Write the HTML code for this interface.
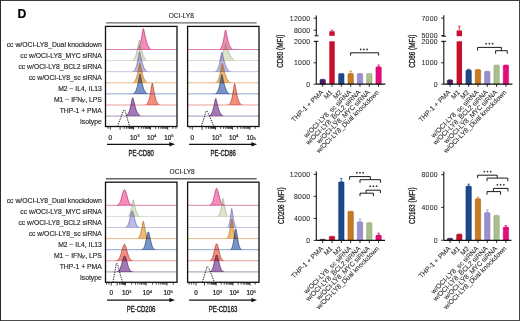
<!DOCTYPE html>
<html><head><meta charset="utf-8"><style>
html,body{margin:0;padding:0;background:#fff;}
body{width:520px;height:321px;overflow:hidden;font-family:"Liberation Sans", sans-serif;}
svg{display:block;}
text{stroke:#222;stroke-width:0.22px;}
</style></head><body>
<svg width="520" height="321" viewBox="0 0 520 321" font-family='"Liberation Sans", sans-serif'>
<rect x="0" y="0" width="520" height="321" fill="#fff"/>
<line x1="0" y1="0.5" x2="520" y2="0.5" stroke="#3c3c3c" stroke-width="1"/>
<line x1="519.5" y1="0" x2="519.5" y2="321" stroke="#474747" stroke-width="1"/>
<line x1="0" y1="320.5" x2="520" y2="320.5" stroke="#4d4d4d" stroke-width="1"/>
<line x1="0.5" y1="0" x2="0.5" y2="321" stroke="#2c2c2c" stroke-width="1"/>
<text x="17.6" y="17.8" font-size="12.2" font-weight="bold" fill="#000">D</text>
<text x="181.30" y="17.90" font-size="6.6" text-anchor="middle" fill="#222" style="stroke-width:0.1px">OCI-LY8</text>
<line x1="106" y1="22.90" x2="256.6" y2="22.90" stroke="#666" stroke-width="1.4"/>
<text x="101.8" y="47.20" font-size="6.8" text-anchor="end" fill="#2a2a2a" style="stroke:#2a2a2a;stroke-width:0.16px">cc w/OCI-LY8_Dual knockdown</text>
<text x="101.8" y="58.20" font-size="6.8" text-anchor="end" fill="#2a2a2a" style="stroke:#2a2a2a;stroke-width:0.16px">cc w/OCI-LY8_MYC siRNA</text>
<text x="101.8" y="69.20" font-size="6.8" text-anchor="end" fill="#2a2a2a" style="stroke:#2a2a2a;stroke-width:0.16px">cc w/OCI-LY8_BCL2 siRNA</text>
<text x="101.8" y="80.20" font-size="6.8" text-anchor="end" fill="#2a2a2a" style="stroke:#2a2a2a;stroke-width:0.16px">cc w/OCI-LY8_sc siRNA</text>
<text x="101.8" y="91.20" font-size="6.8" text-anchor="end" fill="#2a2a2a" style="stroke:#2a2a2a;stroke-width:0.16px">M2 − IL4, IL13</text>
<text x="101.8" y="102.20" font-size="6.8" text-anchor="end" fill="#2a2a2a" style="stroke:#2a2a2a;stroke-width:0.16px">M1 − IFN<tspan font-style="italic" font-size="6.2">γ</tspan>, LPS</text>
<text x="101.8" y="113.20" font-size="6.8" text-anchor="end" fill="#2a2a2a" style="stroke:#2a2a2a;stroke-width:0.16px">THP-1 + PMA</text>
<text x="101.8" y="124.20" font-size="6.8" text-anchor="end" fill="#2a2a2a" style="stroke:#2a2a2a;stroke-width:0.16px">Isotype</text>
<line x1="105.5" y1="49.50" x2="177.0" y2="49.50" stroke="#dd82b0" stroke-width="1.0"/>
<path d="M106.20,49.50 L106.20,49.50 L106.78,49.50 L107.37,49.50 L107.95,49.50 L108.54,49.50 L109.12,49.50 L109.70,49.50 L110.29,49.50 L110.87,49.50 L111.46,49.50 L112.04,49.50 L112.63,49.50 L113.21,49.50 L113.79,49.50 L114.38,49.50 L114.96,49.50 L115.55,49.50 L116.13,49.50 L116.72,49.50 L117.30,49.50 L117.88,49.50 L118.47,49.50 L119.05,49.50 L119.64,49.50 L120.22,49.50 L120.80,49.50 L121.39,49.50 L121.97,49.50 L122.56,49.50 L123.14,49.50 L123.73,49.50 L124.31,49.50 L124.89,49.50 L125.48,49.50 L126.06,49.50 L126.65,49.50 L127.23,49.50 L127.81,49.50 L128.40,49.50 L128.98,49.50 L129.57,49.50 L130.15,49.50 L130.74,49.50 L131.32,49.50 L131.90,49.50 L132.49,49.49 L133.07,49.49 L133.66,49.48 L134.24,49.46 L134.82,49.43 L135.41,49.38 L135.99,49.29 L136.58,49.15 L137.16,48.92 L137.75,48.55 L138.33,48.00 L138.91,47.18 L139.50,45.99 L140.08,44.35 L140.67,42.16 L141.25,39.39 L141.83,36.10 L142.42,32.56 L143.00,29.41 L143.59,29.11 L144.17,31.39 L144.75,34.12 L145.34,36.87 L145.92,39.40 L146.51,41.62 L147.09,43.48 L147.68,44.99 L148.26,46.18 L148.84,47.10 L149.43,47.79 L150.01,48.30 L150.60,48.67 L151.18,48.93 L151.77,49.12 L152.35,49.24 L152.93,49.33 L153.52,49.39 L154.10,49.43 L154.69,49.46 L155.27,49.47 L155.85,49.48 L156.44,49.49 L157.02,49.49 L157.61,49.50 L158.19,49.50 L158.78,49.50 L159.36,49.50 L159.94,49.50 L160.53,49.50 L161.11,49.50 L161.70,49.50 L162.28,49.50 L162.86,49.50 L163.45,49.50 L164.03,49.50 L164.62,49.50 L165.20,49.50 L165.79,49.50 L166.37,49.50 L166.95,49.50 L167.54,49.50 L168.12,49.50 L168.71,49.50 L169.29,49.50 L169.87,49.50 L170.46,49.50 L171.04,49.50 L171.63,49.50 L172.21,49.50 L172.80,49.50 L173.38,49.50 L173.96,49.50 L174.55,49.50 L175.13,49.50 L175.72,49.50 L176.30,49.50 L176.30,49.50 Z" fill="#f47fb4" fill-opacity="0.9" style="mix-blend-mode:multiply"/>
<path d="M137.90,48.43 L138.05,48.29 L138.21,48.14 L138.36,47.96 L138.52,47.77 L138.67,47.56 L138.82,47.33 L138.98,47.07 L139.13,46.79 L139.28,46.47 L139.44,46.13 L139.59,45.76 L139.75,45.36 L139.90,44.92 L140.05,44.44 L140.21,43.93 L140.36,43.38 L140.51,42.79 L140.67,42.15 L140.82,41.48 L140.98,40.76 L141.13,40.01 L141.28,39.22 L141.44,38.39 L141.59,37.53 L141.74,36.64 L141.90,35.72 L142.05,34.79 L142.21,33.85 L142.36,32.92 L142.51,32.00 L142.67,31.12 L142.82,30.29 L142.97,29.54 L143.13,28.92 L143.28,28.52 L143.44,28.71 L143.59,29.12 L143.74,29.63 L143.90,30.22 L144.05,30.86 L144.20,31.54 L144.36,32.24 L144.51,32.96 L144.67,33.69 L144.82,34.43 L144.97,35.16 L145.13,35.88 L145.28,36.60 L145.43,37.30 L145.59,37.98 L145.74,38.64 L145.90,39.29 L146.05,39.91 L146.20,40.51 L146.36,41.08 L146.51,41.63 L146.66,42.15 L146.82,42.65 L146.97,43.12 L147.12,43.57 L147.28,44.00 L147.43,44.40 L147.59,44.78 L147.74,45.13 L147.89,45.47 L148.05,45.78 L148.20,46.07 L148.36,46.35 L148.51,46.60 L148.66,46.84 L148.82,47.06 L148.97,47.26 L149.12,47.45 L149.28,47.63 L149.43,47.79 L149.59,47.94 L149.74,48.08 L149.89,48.20 L150.05,48.32 L150.20,48.43" fill="none" stroke="#b8246a" stroke-width="0.8" stroke-opacity="0.9"/>
<line x1="105.5" y1="60.60" x2="177.0" y2="60.60" stroke="#d8dece" stroke-width="1.0"/>
<path d="M106.20,60.60 L106.20,60.60 L106.78,60.60 L107.37,60.60 L107.95,60.60 L108.54,60.60 L109.12,60.60 L109.70,60.60 L110.29,60.60 L110.87,60.60 L111.46,60.60 L112.04,60.60 L112.63,60.60 L113.21,60.60 L113.79,60.60 L114.38,60.60 L114.96,60.60 L115.55,60.60 L116.13,60.60 L116.72,60.60 L117.30,60.60 L117.88,60.60 L118.47,60.60 L119.05,60.60 L119.64,60.60 L120.22,60.60 L120.80,60.60 L121.39,60.60 L121.97,60.60 L122.56,60.60 L123.14,60.60 L123.73,60.60 L124.31,60.60 L124.89,60.60 L125.48,60.60 L126.06,60.60 L126.65,60.60 L127.23,60.59 L127.81,60.59 L128.40,60.58 L128.98,60.57 L129.57,60.55 L130.15,60.52 L130.74,60.47 L131.32,60.39 L131.90,60.26 L132.49,60.07 L133.07,59.78 L133.66,59.35 L134.24,58.72 L134.82,57.85 L135.41,56.66 L135.99,55.07 L136.58,53.04 L137.16,50.55 L137.75,47.66 L138.33,44.55 L138.91,41.64 L139.50,40.23 L140.08,42.25 L140.67,44.97 L141.25,47.80 L141.83,50.43 L142.42,52.73 L143.00,54.65 L143.59,56.20 L144.17,57.41 L144.75,58.32 L145.34,59.01 L145.92,59.50 L146.51,59.85 L147.09,60.10 L147.68,60.27 L148.26,60.39 L148.84,60.46 L149.43,60.51 L150.01,60.55 L150.60,60.57 L151.18,60.58 L151.77,60.59 L152.35,60.59 L152.93,60.60 L153.52,60.60 L154.10,60.60 L154.69,60.60 L155.27,60.60 L155.85,60.60 L156.44,60.60 L157.02,60.60 L157.61,60.60 L158.19,60.60 L158.78,60.60 L159.36,60.60 L159.94,60.60 L160.53,60.60 L161.11,60.60 L161.70,60.60 L162.28,60.60 L162.86,60.60 L163.45,60.60 L164.03,60.60 L164.62,60.60 L165.20,60.60 L165.79,60.60 L166.37,60.60 L166.95,60.60 L167.54,60.60 L168.12,60.60 L168.71,60.60 L169.29,60.60 L169.87,60.60 L170.46,60.60 L171.04,60.60 L171.63,60.60 L172.21,60.60 L172.80,60.60 L173.38,60.60 L173.96,60.60 L174.55,60.60 L175.13,60.60 L175.72,60.60 L176.30,60.60 L176.30,60.60 Z" fill="#d8e2c6" fill-opacity="0.9" style="mix-blend-mode:multiply"/>
<path d="M133.40,59.55 L133.56,59.43 L133.72,59.29 L133.87,59.14 L134.03,58.97 L134.19,58.79 L134.34,58.59 L134.50,58.37 L134.66,58.13 L134.82,57.86 L134.97,57.58 L135.13,57.27 L135.29,56.93 L135.45,56.56 L135.61,56.17 L135.76,55.75 L135.92,55.29 L136.08,54.80 L136.24,54.28 L136.39,53.73 L136.55,53.14 L136.71,52.52 L136.87,51.87 L137.02,51.18 L137.18,50.46 L137.34,49.71 L137.50,48.94 L137.65,48.14 L137.81,47.32 L137.97,46.48 L138.12,45.64 L138.28,44.80 L138.44,43.96 L138.60,43.15 L138.75,42.37 L138.91,41.64 L139.07,40.99 L139.23,40.45 L139.38,40.11 L139.54,40.33 L139.70,40.78 L139.86,41.33 L140.02,41.96 L140.17,42.65 L140.33,43.37 L140.49,44.11 L140.65,44.87 L140.80,45.64 L140.96,46.41 L141.12,47.17 L141.28,47.91 L141.43,48.65 L141.59,49.36 L141.75,50.06 L141.91,50.73 L142.06,51.37 L142.22,51.99 L142.38,52.58 L142.53,53.14 L142.69,53.68 L142.85,54.19 L143.01,54.67 L143.16,55.12 L143.32,55.54 L143.48,55.94 L143.64,56.32 L143.80,56.67 L143.95,56.99 L144.11,57.29 L144.27,57.58 L144.43,57.84 L144.58,58.08 L144.74,58.30 L144.90,58.51 L145.06,58.70 L145.21,58.88 L145.37,59.04 L145.53,59.18 L145.69,59.32 L145.84,59.44 L146.00,59.55" fill="none" stroke="#98a886" stroke-width="0.8" stroke-opacity="0.9"/>
<line x1="105.5" y1="71.70" x2="177.0" y2="71.70" stroke="#c8c3e6" stroke-width="1.0"/>
<path d="M106.20,71.70 L106.20,71.70 L106.78,71.70 L107.37,71.70 L107.95,71.70 L108.54,71.70 L109.12,71.70 L109.70,71.70 L110.29,71.70 L110.87,71.70 L111.46,71.70 L112.04,71.70 L112.63,71.70 L113.21,71.70 L113.79,71.70 L114.38,71.70 L114.96,71.70 L115.55,71.70 L116.13,71.70 L116.72,71.70 L117.30,71.70 L117.88,71.70 L118.47,71.70 L119.05,71.70 L119.64,71.70 L120.22,71.70 L120.80,71.70 L121.39,71.70 L121.97,71.70 L122.56,71.70 L123.14,71.70 L123.73,71.70 L124.31,71.70 L124.89,71.70 L125.48,71.70 L126.06,71.70 L126.65,71.70 L127.23,71.70 L127.81,71.70 L128.40,71.69 L128.98,71.69 L129.57,71.68 L130.15,71.66 L130.74,71.63 L131.32,71.58 L131.90,71.50 L132.49,71.37 L133.07,71.17 L133.66,70.85 L134.24,70.39 L134.82,69.70 L135.41,68.73 L135.99,67.38 L136.58,65.60 L137.16,63.31 L137.75,60.55 L138.33,57.43 L138.91,54.28 L139.50,51.87 L140.08,52.99 L140.67,55.51 L141.25,58.28 L141.83,60.93 L142.42,63.29 L143.00,65.30 L143.59,66.93 L144.17,68.21 L144.75,69.20 L145.34,69.94 L145.92,70.48 L146.51,70.87 L147.09,71.14 L147.68,71.33 L148.26,71.46 L148.84,71.54 L149.43,71.60 L150.01,71.64 L150.60,71.66 L151.18,71.68 L151.77,71.69 L152.35,71.69 L152.93,71.69 L153.52,71.70 L154.10,71.70 L154.69,71.70 L155.27,71.70 L155.85,71.70 L156.44,71.70 L157.02,71.70 L157.61,71.70 L158.19,71.70 L158.78,71.70 L159.36,71.70 L159.94,71.70 L160.53,71.70 L161.11,71.70 L161.70,71.70 L162.28,71.70 L162.86,71.70 L163.45,71.70 L164.03,71.70 L164.62,71.70 L165.20,71.70 L165.79,71.70 L166.37,71.70 L166.95,71.70 L167.54,71.70 L168.12,71.70 L168.71,71.70 L169.29,71.70 L169.87,71.70 L170.46,71.70 L171.04,71.70 L171.63,71.70 L172.21,71.70 L172.80,71.70 L173.38,71.70 L173.96,71.70 L174.55,71.70 L175.13,71.70 L175.72,71.70 L176.30,71.70 L176.30,71.70 Z" fill="#b6b0e6" fill-opacity="0.9" style="mix-blend-mode:multiply"/>
<path d="M133.90,70.68 L134.05,70.56 L134.21,70.42 L134.36,70.26 L134.52,70.09 L134.67,69.91 L134.82,69.70 L134.98,69.48 L135.13,69.23 L135.28,68.96 L135.44,68.67 L135.59,68.35 L135.75,68.00 L135.90,67.63 L136.05,67.22 L136.21,66.78 L136.36,66.31 L136.51,65.81 L136.67,65.27 L136.82,64.70 L136.97,64.09 L137.13,63.45 L137.28,62.78 L137.44,62.07 L137.59,61.33 L137.74,60.56 L137.90,59.76 L138.05,58.95 L138.21,58.11 L138.36,57.27 L138.51,56.42 L138.67,55.59 L138.82,54.77 L138.97,53.98 L139.13,53.25 L139.28,52.59 L139.44,52.05 L139.59,51.71 L139.74,51.93 L139.90,52.35 L140.05,52.88 L140.20,53.47 L140.36,54.12 L140.51,54.80 L140.66,55.51 L140.82,56.23 L140.97,56.96 L141.13,57.69 L141.28,58.42 L141.43,59.13 L141.59,59.84 L141.74,60.52 L141.89,61.19 L142.05,61.84 L142.20,62.46 L142.36,63.06 L142.51,63.63 L142.66,64.18 L142.82,64.70 L142.97,65.20 L143.12,65.67 L143.28,66.11 L143.43,66.53 L143.59,66.93 L143.74,67.30 L143.89,67.64 L144.05,67.97 L144.20,68.27 L144.35,68.56 L144.51,68.82 L144.66,69.06 L144.82,69.29 L144.97,69.50 L145.12,69.69 L145.28,69.87 L145.43,70.04 L145.58,70.19 L145.74,70.33 L145.89,70.46 L146.05,70.57 L146.20,70.68" fill="none" stroke="#6a62a8" stroke-width="0.8" stroke-opacity="0.9"/>
<line x1="105.5" y1="82.80" x2="177.0" y2="82.80" stroke="#e6b985" stroke-width="1.0"/>
<path d="M106.20,82.80 L106.20,82.80 L106.78,82.80 L107.37,82.80 L107.95,82.80 L108.54,82.80 L109.12,82.80 L109.70,82.80 L110.29,82.80 L110.87,82.80 L111.46,82.80 L112.04,82.80 L112.63,82.80 L113.21,82.80 L113.79,82.80 L114.38,82.80 L114.96,82.80 L115.55,82.80 L116.13,82.80 L116.72,82.80 L117.30,82.80 L117.88,82.80 L118.47,82.80 L119.05,82.80 L119.64,82.80 L120.22,82.80 L120.80,82.80 L121.39,82.80 L121.97,82.80 L122.56,82.80 L123.14,82.80 L123.73,82.80 L124.31,82.80 L124.89,82.80 L125.48,82.80 L126.06,82.80 L126.65,82.80 L127.23,82.80 L127.81,82.80 L128.40,82.79 L128.98,82.79 L129.57,82.78 L130.15,82.77 L130.74,82.74 L131.32,82.70 L131.90,82.63 L132.49,82.52 L133.07,82.35 L133.66,82.08 L134.24,81.67 L134.82,81.06 L135.41,80.20 L135.99,78.99 L136.58,77.36 L137.16,75.25 L137.75,72.65 L138.33,69.63 L138.91,66.43 L139.50,63.63 L140.08,63.41 L140.67,65.70 L141.25,68.43 L141.83,71.15 L142.42,73.62 L143.00,75.75 L143.59,77.51 L144.17,78.91 L144.75,79.99 L145.34,80.81 L145.92,81.41 L146.51,81.85 L147.09,82.16 L147.68,82.37 L148.26,82.52 L148.84,82.62 L149.43,82.68 L150.01,82.73 L150.60,82.75 L151.18,82.77 L151.77,82.78 L152.35,82.79 L152.93,82.79 L153.52,82.80 L154.10,82.80 L154.69,82.80 L155.27,82.80 L155.85,82.80 L156.44,82.80 L157.02,82.80 L157.61,82.80 L158.19,82.80 L158.78,82.80 L159.36,82.80 L159.94,82.80 L160.53,82.80 L161.11,82.80 L161.70,82.80 L162.28,82.80 L162.86,82.80 L163.45,82.80 L164.03,82.80 L164.62,82.80 L165.20,82.80 L165.79,82.80 L166.37,82.80 L166.95,82.80 L167.54,82.80 L168.12,82.80 L168.71,82.80 L169.29,82.80 L169.87,82.80 L170.46,82.80 L171.04,82.80 L171.63,82.80 L172.21,82.80 L172.80,82.80 L173.38,82.80 L173.96,82.80 L174.55,82.80 L175.13,82.80 L175.72,82.80 L176.30,82.80 L176.30,82.80 Z" fill="#eeb460" fill-opacity="0.9" style="mix-blend-mode:multiply"/>
<path d="M134.10,81.78 L134.25,81.66 L134.41,81.52 L134.56,81.36 L134.72,81.19 L134.87,81.01 L135.02,80.80 L135.18,80.58 L135.33,80.33 L135.48,80.06 L135.64,79.77 L135.79,79.45 L135.95,79.10 L136.10,78.73 L136.25,78.32 L136.41,77.88 L136.56,77.41 L136.71,76.91 L136.87,76.37 L137.02,75.80 L137.18,75.19 L137.33,74.55 L137.48,73.88 L137.64,73.17 L137.79,72.43 L137.94,71.66 L138.10,70.86 L138.25,70.05 L138.41,69.21 L138.56,68.37 L138.71,67.52 L138.87,66.69 L139.02,65.87 L139.17,65.08 L139.33,64.35 L139.48,63.69 L139.64,63.15 L139.79,62.81 L139.94,63.03 L140.10,63.45 L140.25,63.98 L140.40,64.57 L140.56,65.22 L140.71,65.90 L140.87,66.61 L141.02,67.33 L141.17,68.06 L141.33,68.79 L141.48,69.52 L141.63,70.23 L141.79,70.94 L141.94,71.62 L142.09,72.29 L142.25,72.94 L142.40,73.56 L142.56,74.16 L142.71,74.73 L142.86,75.28 L143.02,75.80 L143.17,76.30 L143.33,76.77 L143.48,77.21 L143.63,77.63 L143.79,78.03 L143.94,78.40 L144.09,78.74 L144.25,79.07 L144.40,79.37 L144.56,79.66 L144.71,79.92 L144.86,80.16 L145.02,80.39 L145.17,80.60 L145.32,80.79 L145.48,80.97 L145.63,81.14 L145.78,81.29 L145.94,81.43 L146.09,81.56 L146.25,81.67 L146.40,81.78" fill="none" stroke="#a86a20" stroke-width="0.8" stroke-opacity="0.9"/>
<line x1="105.5" y1="93.90" x2="177.0" y2="93.90" stroke="#8ea3cc" stroke-width="1.0"/>
<path d="M106.20,93.90 L106.20,93.90 L106.78,93.90 L107.37,93.90 L107.95,93.90 L108.54,93.90 L109.12,93.90 L109.70,93.90 L110.29,93.90 L110.87,93.90 L111.46,93.90 L112.04,93.90 L112.63,93.90 L113.21,93.90 L113.79,93.90 L114.38,93.90 L114.96,93.90 L115.55,93.90 L116.13,93.90 L116.72,93.90 L117.30,93.90 L117.88,93.90 L118.47,93.90 L119.05,93.90 L119.64,93.90 L120.22,93.90 L120.80,93.90 L121.39,93.90 L121.97,93.90 L122.56,93.90 L123.14,93.90 L123.73,93.90 L124.31,93.90 L124.89,93.90 L125.48,93.90 L126.06,93.90 L126.65,93.90 L127.23,93.90 L127.81,93.90 L128.40,93.90 L128.98,93.89 L129.57,93.88 L130.15,93.87 L130.74,93.85 L131.32,93.82 L131.90,93.76 L132.49,93.66 L133.07,93.51 L133.66,93.28 L134.24,92.93 L134.82,92.40 L135.41,91.63 L135.99,90.55 L136.58,89.07 L137.16,87.13 L137.75,84.69 L138.33,81.80 L138.91,78.62 L139.50,75.58 L140.08,74.01 L140.67,76.06 L141.25,78.86 L141.83,81.74 L142.42,84.38 L143.00,86.66 L143.59,88.53 L144.17,90.01 L144.75,91.14 L145.34,91.98 L145.92,92.58 L146.51,93.02 L147.09,93.32 L147.68,93.52 L148.26,93.66 L148.84,93.75 L149.43,93.80 L150.01,93.84 L150.60,93.86 L151.18,93.88 L151.77,93.89 L152.35,93.89 L152.93,93.90 L153.52,93.90 L154.10,93.90 L154.69,93.90 L155.27,93.90 L155.85,93.90 L156.44,93.90 L157.02,93.90 L157.61,93.90 L158.19,93.90 L158.78,93.90 L159.36,93.90 L159.94,93.90 L160.53,93.90 L161.11,93.90 L161.70,93.90 L162.28,93.90 L162.86,93.90 L163.45,93.90 L164.03,93.90 L164.62,93.90 L165.20,93.90 L165.79,93.90 L166.37,93.90 L166.95,93.90 L167.54,93.90 L168.12,93.90 L168.71,93.90 L169.29,93.90 L169.87,93.90 L170.46,93.90 L171.04,93.90 L171.63,93.90 L172.21,93.90 L172.80,93.90 L173.38,93.90 L173.96,93.90 L174.55,93.90 L175.13,93.90 L175.72,93.90 L176.30,93.90 L176.30,93.90 Z" fill="#6a88c2" fill-opacity="0.9" style="mix-blend-mode:multiply"/>
<path d="M134.30,92.88 L134.45,92.76 L134.60,92.62 L134.75,92.48 L134.90,92.31 L135.05,92.13 L135.20,91.93 L135.35,91.72 L135.50,91.48 L135.65,91.22 L135.80,90.94 L135.95,90.64 L136.10,90.31 L136.25,89.95 L136.40,89.56 L136.55,89.15 L136.70,88.70 L136.85,88.22 L137.00,87.71 L137.15,87.17 L137.30,86.60 L137.45,85.99 L137.60,85.34 L137.75,84.67 L137.90,83.96 L138.05,83.23 L138.20,82.47 L138.35,81.69 L138.50,80.88 L138.65,80.07 L138.80,79.24 L138.95,78.42 L139.10,77.60 L139.25,76.81 L139.40,76.05 L139.55,75.34 L139.70,74.72 L139.85,74.20 L140.00,73.90 L140.15,74.16 L140.30,74.61 L140.45,75.16 L140.60,75.77 L140.75,76.44 L140.90,77.15 L141.05,77.87 L141.20,78.61 L141.35,79.36 L141.50,80.11 L141.65,80.85 L141.80,81.57 L141.95,82.29 L142.10,82.98 L142.25,83.65 L142.40,84.30 L142.55,84.93 L142.70,85.53 L142.85,86.10 L143.00,86.65 L143.15,87.17 L143.30,87.66 L143.45,88.13 L143.60,88.57 L143.75,88.98 L143.90,89.37 L144.05,89.73 L144.20,90.07 L144.35,90.39 L144.50,90.68 L144.65,90.96 L144.80,91.21 L144.95,91.45 L145.10,91.66 L145.25,91.86 L145.40,92.05 L145.55,92.22 L145.70,92.38 L145.85,92.52 L146.00,92.65 L146.15,92.77 L146.30,92.88" fill="none" stroke="#1f3a70" stroke-width="0.8" stroke-opacity="0.9"/>
<line x1="105.5" y1="105.00" x2="177.0" y2="105.00" stroke="#e99a9a" stroke-width="1.0"/>
<path d="M106.20,105.00 L106.20,105.00 L106.78,105.00 L107.37,105.00 L107.95,105.00 L108.54,105.00 L109.12,105.00 L109.70,105.00 L110.29,105.00 L110.87,105.00 L111.46,105.00 L112.04,105.00 L112.63,105.00 L113.21,105.00 L113.79,105.00 L114.38,105.00 L114.96,105.00 L115.55,105.00 L116.13,105.00 L116.72,105.00 L117.30,105.00 L117.88,105.00 L118.47,105.00 L119.05,105.00 L119.64,105.00 L120.22,105.00 L120.80,105.00 L121.39,105.00 L121.97,105.00 L122.56,105.00 L123.14,105.00 L123.73,105.00 L124.31,105.00 L124.89,105.00 L125.48,105.00 L126.06,105.00 L126.65,105.00 L127.23,105.00 L127.81,105.00 L128.40,105.00 L128.98,105.00 L129.57,105.00 L130.15,105.00 L130.74,105.00 L131.32,105.00 L131.90,105.00 L132.49,105.00 L133.07,105.00 L133.66,105.00 L134.24,105.00 L134.82,105.00 L135.41,105.00 L135.99,105.00 L136.58,105.00 L137.16,105.00 L137.75,105.00 L138.33,105.00 L138.91,105.00 L139.50,105.00 L140.08,105.00 L140.67,105.00 L141.25,105.00 L141.83,104.99 L142.42,104.98 L143.00,104.97 L143.59,104.94 L144.17,104.90 L144.75,104.83 L145.34,104.70 L145.92,104.50 L146.51,104.18 L147.09,103.69 L147.68,102.96 L148.26,101.88 L148.84,100.37 L149.43,98.32 L150.01,95.66 L150.60,92.42 L151.18,88.76 L151.77,85.18 L152.35,83.06 L152.93,85.37 L153.52,88.61 L154.10,91.92 L154.69,94.93 L155.27,97.48 L155.85,99.54 L156.44,101.13 L157.02,102.31 L157.61,103.18 L158.19,103.79 L158.78,104.21 L159.36,104.49 L159.94,104.68 L160.53,104.80 L161.11,104.88 L161.70,104.93 L162.28,104.96 L162.86,104.97 L163.45,104.99 L164.03,104.99 L164.62,105.00 L165.20,105.00 L165.79,105.00 L166.37,105.00 L166.95,105.00 L167.54,105.00 L168.12,105.00 L168.71,105.00 L169.29,105.00 L169.87,105.00 L170.46,105.00 L171.04,105.00 L171.63,105.00 L172.21,105.00 L172.80,105.00 L173.38,105.00 L173.96,105.00 L174.55,105.00 L175.13,105.00 L175.72,105.00 L176.30,105.00 L176.30,105.00 Z" fill="#f4826f" fill-opacity="0.9" style="mix-blend-mode:multiply"/>
<path d="M146.90,103.88 L147.04,103.74 L147.19,103.60 L147.33,103.43 L147.47,103.25 L147.61,103.05 L147.75,102.83 L147.90,102.59 L148.04,102.33 L148.18,102.05 L148.33,101.74 L148.47,101.40 L148.61,101.03 L148.75,100.64 L148.90,100.21 L149.04,99.75 L149.18,99.26 L149.32,98.73 L149.47,98.17 L149.61,97.57 L149.75,96.93 L149.89,96.25 L150.03,95.54 L150.18,94.80 L150.32,94.02 L150.46,93.21 L150.61,92.37 L150.75,91.50 L150.89,90.61 L151.03,89.71 L151.18,88.80 L151.32,87.89 L151.46,87.00 L151.60,86.12 L151.75,85.29 L151.89,84.52 L152.03,83.83 L152.17,83.28 L152.31,83.01 L152.46,83.33 L152.60,83.83 L152.74,84.44 L152.89,85.13 L153.03,85.87 L153.17,86.64 L153.31,87.44 L153.46,88.26 L153.60,89.07 L153.74,89.89 L153.88,90.70 L154.03,91.50 L154.17,92.28 L154.31,93.04 L154.45,93.78 L154.59,94.49 L154.74,95.18 L154.88,95.83 L155.02,96.46 L155.17,97.06 L155.31,97.63 L155.45,98.17 L155.59,98.68 L155.74,99.16 L155.88,99.61 L156.02,100.03 L156.16,100.43 L156.31,100.80 L156.45,101.15 L156.59,101.47 L156.73,101.77 L156.88,102.05 L157.02,102.31 L157.16,102.54 L157.30,102.76 L157.45,102.97 L157.59,103.15 L157.73,103.32 L157.87,103.48 L158.02,103.63 L158.16,103.76 L158.30,103.88" fill="none" stroke="#b02e28" stroke-width="0.8" stroke-opacity="0.9"/>
<line x1="105.5" y1="116.10" x2="177.0" y2="116.10" stroke="#a893b6" stroke-width="1.0"/>
<path d="M106.20,116.10 L106.20,116.10 L106.78,116.10 L107.37,116.10 L107.95,116.10 L108.54,116.10 L109.12,116.10 L109.70,116.10 L110.29,116.10 L110.87,116.10 L111.46,116.10 L112.04,116.10 L112.63,116.10 L113.21,116.10 L113.79,116.10 L114.38,116.10 L114.96,116.10 L115.55,116.10 L116.13,116.10 L116.72,116.10 L117.30,116.10 L117.88,116.10 L118.47,116.10 L119.05,116.10 L119.64,116.10 L120.22,116.10 L120.80,116.09 L121.39,116.09 L121.97,116.08 L122.56,116.07 L123.14,116.05 L123.73,116.01 L124.31,115.95 L124.89,115.86 L125.48,115.72 L126.06,115.51 L126.65,115.19 L127.23,114.73 L127.81,114.07 L128.40,113.15 L128.98,111.92 L129.57,110.30 L130.15,108.27 L130.74,105.84 L131.32,103.11 L131.90,100.32 L132.49,98.03 L133.07,98.38 L133.66,100.48 L134.24,102.91 L134.82,105.31 L135.41,107.51 L135.99,109.42 L136.58,111.01 L137.16,112.29 L137.75,113.31 L138.33,114.08 L138.91,114.66 L139.50,115.09 L140.08,115.41 L140.67,115.63 L141.25,115.78 L141.83,115.89 L142.42,115.96 L143.00,116.01 L143.59,116.04 L144.17,116.06 L144.75,116.08 L145.34,116.09 L145.92,116.09 L146.51,116.09 L147.09,116.10 L147.68,116.10 L148.26,116.10 L148.84,116.10 L149.43,116.10 L150.01,116.10 L150.60,116.10 L151.18,116.10 L151.77,116.10 L152.35,116.10 L152.93,116.10 L153.52,116.10 L154.10,116.10 L154.69,116.10 L155.27,116.10 L155.85,116.10 L156.44,116.10 L157.02,116.10 L157.61,116.10 L158.19,116.10 L158.78,116.10 L159.36,116.10 L159.94,116.10 L160.53,116.10 L161.11,116.10 L161.70,116.10 L162.28,116.10 L162.86,116.10 L163.45,116.10 L164.03,116.10 L164.62,116.10 L165.20,116.10 L165.79,116.10 L166.37,116.10 L166.95,116.10 L167.54,116.10 L168.12,116.10 L168.71,116.10 L169.29,116.10 L169.87,116.10 L170.46,116.10 L171.04,116.10 L171.63,116.10 L172.21,116.10 L172.80,116.10 L173.38,116.10 L173.96,116.10 L174.55,116.10 L175.13,116.10 L175.72,116.10 L176.30,116.10 L176.30,116.10 Z" fill="#966aae" fill-opacity="0.9" style="mix-blend-mode:multiply"/>
<path d="M126.70,115.16 L126.86,115.04 L127.02,114.91 L127.18,114.77 L127.34,114.62 L127.51,114.45 L127.67,114.26 L127.83,114.05 L127.99,113.82 L128.15,113.58 L128.31,113.31 L128.47,113.01 L128.63,112.69 L128.80,112.35 L128.96,111.98 L129.12,111.58 L129.28,111.14 L129.44,110.68 L129.60,110.19 L129.76,109.66 L129.92,109.11 L130.09,108.52 L130.25,107.90 L130.41,107.25 L130.57,106.57 L130.73,105.86 L130.89,105.13 L131.05,104.38 L131.22,103.61 L131.38,102.83 L131.54,102.06 L131.70,101.28 L131.86,100.52 L132.02,99.79 L132.18,99.11 L132.34,98.50 L132.50,97.98 L132.67,97.63 L132.83,97.77 L132.99,98.14 L133.15,98.62 L133.31,99.17 L133.47,99.76 L133.63,100.39 L133.79,101.05 L133.96,101.72 L134.12,102.39 L134.28,103.07 L134.44,103.75 L134.60,104.41 L134.76,105.06 L134.92,105.70 L135.08,106.32 L135.25,106.93 L135.41,107.51 L135.57,108.06 L135.73,108.60 L135.89,109.11 L136.05,109.59 L136.21,110.06 L136.38,110.49 L136.54,110.91 L136.70,111.30 L136.86,111.67 L137.02,112.01 L137.18,112.33 L137.34,112.64 L137.50,112.92 L137.66,113.18 L137.83,113.43 L137.99,113.65 L138.15,113.86 L138.31,114.06 L138.47,114.24 L138.63,114.41 L138.79,114.56 L138.95,114.70 L139.12,114.83 L139.28,114.95 L139.44,115.06 L139.60,115.16" fill="none" stroke="#4a1e5e" stroke-width="0.8" stroke-opacity="0.9"/>
<path d="M117.40,126.50 L123.00,111.71 Q124.40,107.58 125.44,111.71 L129.60,126.50" fill="none" stroke="#111" stroke-width="0.95" stroke-dasharray="1.3,1.1"/>
<rect x="105.5" y="26.40" width="71.50" height="100.10" fill="none" stroke="#111" stroke-width="1.3"/>
<line x1="108.00" y1="126.50" x2="108.00" y2="128.70" stroke="#1a1a1a" stroke-width="0.85"/>
<line x1="110.30" y1="126.50" x2="110.30" y2="129.70" stroke="#1a1a1a" stroke-width="0.85"/>
<line x1="120.09" y1="126.50" x2="120.09" y2="129.70" stroke="#1a1a1a" stroke-width="0.85"/>
<line x1="124.15" y1="126.50" x2="124.15" y2="128.80" stroke="#1a1a1a" stroke-width="0.85"/>
<line x1="126.53" y1="126.50" x2="126.53" y2="128.80" stroke="#1a1a1a" stroke-width="0.85"/>
<line x1="128.22" y1="126.50" x2="128.22" y2="128.80" stroke="#1a1a1a" stroke-width="0.85"/>
<line x1="129.53" y1="126.50" x2="129.53" y2="128.80" stroke="#1a1a1a" stroke-width="0.85"/>
<line x1="130.60" y1="126.50" x2="130.60" y2="128.80" stroke="#1a1a1a" stroke-width="0.85"/>
<line x1="131.51" y1="126.50" x2="131.51" y2="128.80" stroke="#1a1a1a" stroke-width="0.85"/>
<line x1="132.29" y1="126.50" x2="132.29" y2="128.80" stroke="#1a1a1a" stroke-width="0.85"/>
<line x1="132.98" y1="126.50" x2="132.98" y2="128.80" stroke="#1a1a1a" stroke-width="0.85"/>
<line x1="133.60" y1="126.50" x2="133.60" y2="129.70" stroke="#1a1a1a" stroke-width="0.85"/>
<line x1="138.66" y1="126.50" x2="138.66" y2="128.80" stroke="#1a1a1a" stroke-width="0.85"/>
<line x1="141.62" y1="126.50" x2="141.62" y2="128.80" stroke="#1a1a1a" stroke-width="0.85"/>
<line x1="143.71" y1="126.50" x2="143.71" y2="128.80" stroke="#1a1a1a" stroke-width="0.85"/>
<line x1="145.34" y1="126.50" x2="145.34" y2="128.80" stroke="#1a1a1a" stroke-width="0.85"/>
<line x1="146.67" y1="126.50" x2="146.67" y2="128.80" stroke="#1a1a1a" stroke-width="0.85"/>
<line x1="147.80" y1="126.50" x2="147.80" y2="128.80" stroke="#1a1a1a" stroke-width="0.85"/>
<line x1="148.77" y1="126.50" x2="148.77" y2="128.80" stroke="#1a1a1a" stroke-width="0.85"/>
<line x1="149.63" y1="126.50" x2="149.63" y2="128.80" stroke="#1a1a1a" stroke-width="0.85"/>
<line x1="150.40" y1="126.50" x2="150.40" y2="129.70" stroke="#1a1a1a" stroke-width="0.85"/>
<line x1="155.61" y1="126.50" x2="155.61" y2="128.80" stroke="#1a1a1a" stroke-width="0.85"/>
<line x1="158.65" y1="126.50" x2="158.65" y2="128.80" stroke="#1a1a1a" stroke-width="0.85"/>
<line x1="160.82" y1="126.50" x2="160.82" y2="128.80" stroke="#1a1a1a" stroke-width="0.85"/>
<line x1="162.49" y1="126.50" x2="162.49" y2="128.80" stroke="#1a1a1a" stroke-width="0.85"/>
<line x1="163.86" y1="126.50" x2="163.86" y2="128.80" stroke="#1a1a1a" stroke-width="0.85"/>
<line x1="165.02" y1="126.50" x2="165.02" y2="128.80" stroke="#1a1a1a" stroke-width="0.85"/>
<line x1="166.02" y1="126.50" x2="166.02" y2="128.80" stroke="#1a1a1a" stroke-width="0.85"/>
<line x1="166.91" y1="126.50" x2="166.91" y2="128.80" stroke="#1a1a1a" stroke-width="0.85"/>
<line x1="167.70" y1="126.50" x2="167.70" y2="129.70" stroke="#1a1a1a" stroke-width="0.85"/>
<line x1="172.91" y1="126.50" x2="172.91" y2="128.80" stroke="#1a1a1a" stroke-width="0.85"/>
<line x1="175.95" y1="126.50" x2="175.95" y2="128.80" stroke="#1a1a1a" stroke-width="0.85"/>
<text x="110.30" y="139.60" font-size="6.3" text-anchor="middle" fill="#222">0</text>
<text x="133.60" y="139.60" font-size="6.3" text-anchor="middle" fill="#222">10</text>
<text transform="translate(137.20,137.00) scale(0.5)" font-size="8.6" fill="#222" style="stroke-width:0.3px">3</text>
<text x="150.40" y="139.60" font-size="6.3" text-anchor="middle" fill="#222">10</text>
<text transform="translate(154.00,137.00) scale(0.5)" font-size="8.6" fill="#222" style="stroke-width:0.3px">4</text>
<text x="167.70" y="139.60" font-size="6.3" text-anchor="middle" fill="#222">10</text>
<text transform="translate(171.30,137.00) scale(0.5)" font-size="8.6" fill="#222" style="stroke-width:0.3px">5</text>
<line x1="107.0" y1="144.30" x2="172.0" y2="144.30" stroke="#111" stroke-width="1.2"/>
<path d="M169.40,142.10 L175.00,144.30 L169.40,146.50 Z" fill="#111"/>
<line x1="187.6" y1="49.50" x2="259.0" y2="49.50" stroke="#dd82b0" stroke-width="1.0"/>
<path d="M188.30,49.50 L188.30,49.50 L188.88,49.50 L189.47,49.50 L190.05,49.50 L190.63,49.50 L191.22,49.50 L191.80,49.50 L192.38,49.50 L192.97,49.50 L193.55,49.50 L194.13,49.50 L194.72,49.50 L195.30,49.50 L195.88,49.50 L196.47,49.50 L197.05,49.50 L197.63,49.50 L198.22,49.50 L198.80,49.50 L199.38,49.50 L199.97,49.50 L200.55,49.50 L201.13,49.50 L201.72,49.50 L202.30,49.50 L202.88,49.50 L203.47,49.50 L204.05,49.50 L204.63,49.50 L205.22,49.50 L205.80,49.50 L206.38,49.50 L206.97,49.50 L207.55,49.50 L208.13,49.50 L208.72,49.50 L209.30,49.50 L209.88,49.50 L210.47,49.50 L211.05,49.50 L211.63,49.50 L212.22,49.50 L212.80,49.50 L213.38,49.50 L213.97,49.50 L214.55,49.50 L215.13,49.50 L215.72,49.49 L216.30,49.48 L216.88,49.47 L217.47,49.44 L218.05,49.39 L218.63,49.30 L219.22,49.15 L219.80,48.91 L220.38,48.52 L220.97,47.91 L221.55,47.00 L222.13,45.68 L222.72,43.84 L223.30,41.41 L223.88,38.39 L224.47,34.97 L225.05,31.64 L225.63,30.22 L226.22,32.33 L226.80,35.08 L227.38,37.87 L227.97,40.42 L228.55,42.60 L229.13,44.39 L229.72,45.80 L230.30,46.88 L230.88,47.68 L231.47,48.25 L232.05,48.66 L232.63,48.95 L233.22,49.14 L233.80,49.27 L234.38,49.35 L234.97,49.41 L235.55,49.44 L236.13,49.47 L236.72,49.48 L237.30,49.49 L237.88,49.49 L238.47,49.50 L239.05,49.50 L239.63,49.50 L240.22,49.50 L240.80,49.50 L241.38,49.50 L241.97,49.50 L242.55,49.50 L243.13,49.50 L243.72,49.50 L244.30,49.50 L244.88,49.50 L245.47,49.50 L246.05,49.50 L246.63,49.50 L247.22,49.50 L247.80,49.50 L248.38,49.50 L248.97,49.50 L249.55,49.50 L250.13,49.50 L250.72,49.50 L251.30,49.50 L251.88,49.50 L252.47,49.50 L253.05,49.50 L253.63,49.50 L254.22,49.50 L254.80,49.50 L255.38,49.50 L255.97,49.50 L256.55,49.50 L257.13,49.50 L257.72,49.50 L258.30,49.50 L258.30,49.50 Z" fill="#f47fb4" fill-opacity="0.9" style="mix-blend-mode:multiply"/>
<path d="M220.40,48.51 L220.54,48.38 L220.69,48.24 L220.83,48.08 L220.97,47.91 L221.11,47.72 L221.25,47.51 L221.40,47.28 L221.54,47.02 L221.68,46.74 L221.83,46.44 L221.97,46.10 L222.11,45.74 L222.25,45.35 L222.40,44.92 L222.54,44.46 L222.68,43.97 L222.82,43.44 L222.97,42.88 L223.11,42.28 L223.25,41.64 L223.39,40.97 L223.53,40.26 L223.68,39.52 L223.82,38.74 L223.96,37.94 L224.11,37.12 L224.25,36.28 L224.39,35.43 L224.53,34.57 L224.68,33.73 L224.82,32.90 L224.96,32.11 L225.10,31.38 L225.25,30.74 L225.39,30.23 L225.53,30.02 L225.67,30.31 L225.81,30.74 L225.96,31.25 L226.10,31.83 L226.24,32.45 L226.39,33.10 L226.53,33.77 L226.67,34.45 L226.81,35.14 L226.96,35.83 L227.10,36.52 L227.24,37.20 L227.38,37.87 L227.53,38.52 L227.67,39.15 L227.81,39.77 L227.95,40.36 L228.09,40.93 L228.24,41.48 L228.38,42.01 L228.52,42.51 L228.67,42.99 L228.81,43.44 L228.95,43.87 L229.09,44.28 L229.24,44.67 L229.38,45.03 L229.52,45.37 L229.66,45.69 L229.81,45.99 L229.95,46.26 L230.09,46.53 L230.23,46.77 L230.38,46.99 L230.52,47.20 L230.66,47.40 L230.80,47.58 L230.95,47.75 L231.09,47.90 L231.23,48.04 L231.37,48.17 L231.52,48.29 L231.66,48.40 L231.80,48.51" fill="none" stroke="#b8246a" stroke-width="0.8" stroke-opacity="0.9"/>
<line x1="187.6" y1="60.60" x2="259.0" y2="60.60" stroke="#d8dece" stroke-width="1.0"/>
<path d="M188.30,60.60 L188.30,60.60 L188.88,60.60 L189.47,60.60 L190.05,60.60 L190.63,60.60 L191.22,60.60 L191.80,60.60 L192.38,60.60 L192.97,60.60 L193.55,60.60 L194.13,60.60 L194.72,60.60 L195.30,60.60 L195.88,60.60 L196.47,60.60 L197.05,60.60 L197.63,60.60 L198.22,60.60 L198.80,60.60 L199.38,60.60 L199.97,60.60 L200.55,60.60 L201.13,60.60 L201.72,60.60 L202.30,60.60 L202.88,60.60 L203.47,60.60 L204.05,60.60 L204.63,60.60 L205.22,60.60 L205.80,60.60 L206.38,60.60 L206.97,60.60 L207.55,60.60 L208.13,60.60 L208.72,60.60 L209.30,60.60 L209.88,60.60 L210.47,60.60 L211.05,60.60 L211.63,60.60 L212.22,60.60 L212.80,60.60 L213.38,60.60 L213.97,60.59 L214.55,60.59 L215.13,60.58 L215.72,60.56 L216.30,60.53 L216.88,60.49 L217.47,60.42 L218.05,60.31 L218.63,60.14 L219.22,59.89 L219.80,59.51 L220.38,58.97 L220.97,58.21 L221.55,57.16 L222.13,55.77 L222.72,53.99 L223.30,51.78 L223.88,49.21 L224.47,46.41 L225.05,43.74 L225.63,42.12 L226.22,43.37 L226.80,45.25 L227.38,47.32 L227.97,49.38 L228.55,51.30 L229.13,53.03 L229.72,54.54 L230.30,55.81 L230.88,56.87 L231.47,57.73 L232.05,58.42 L232.63,58.96 L233.22,59.38 L233.80,59.71 L234.38,59.95 L234.97,60.13 L235.55,60.26 L236.13,60.36 L236.72,60.43 L237.30,60.48 L237.88,60.52 L238.47,60.55 L239.05,60.56 L239.63,60.57 L240.22,60.58 L240.80,60.59 L241.38,60.59 L241.97,60.60 L242.55,60.60 L243.13,60.60 L243.72,60.60 L244.30,60.60 L244.88,60.60 L245.47,60.60 L246.05,60.60 L246.63,60.60 L247.22,60.60 L247.80,60.60 L248.38,60.60 L248.97,60.60 L249.55,60.60 L250.13,60.60 L250.72,60.60 L251.30,60.60 L251.88,60.60 L252.47,60.60 L253.05,60.60 L253.63,60.60 L254.22,60.60 L254.80,60.60 L255.38,60.60 L255.97,60.60 L256.55,60.60 L257.13,60.60 L257.72,60.60 L258.30,60.60 L258.30,60.60 Z" fill="#d8e2c6" fill-opacity="0.9" style="mix-blend-mode:multiply"/>
<path d="M219.60,59.66 L219.78,59.53 L219.95,59.39 L220.13,59.23 L220.31,59.06 L220.48,58.86 L220.66,58.64 L220.83,58.41 L221.01,58.14 L221.19,57.85 L221.36,57.53 L221.54,57.19 L221.72,56.81 L221.89,56.40 L222.07,55.95 L222.24,55.47 L222.42,54.95 L222.60,54.39 L222.77,53.79 L222.95,53.16 L223.12,52.49 L223.30,51.78 L223.48,51.03 L223.65,50.26 L223.83,49.46 L224.01,48.63 L224.18,47.79 L224.36,46.94 L224.53,46.09 L224.71,45.25 L224.89,44.44 L225.06,43.69 L225.24,43.01 L225.42,42.45 L225.59,42.10 L225.77,42.30 L225.94,42.66 L226.12,43.10 L226.30,43.61 L226.47,44.16 L226.65,44.74 L226.83,45.34 L227.00,45.96 L227.18,46.59 L227.35,47.22 L227.53,47.85 L227.71,48.48 L227.88,49.09 L228.06,49.70 L228.24,50.29 L228.41,50.86 L228.59,51.42 L228.76,51.96 L228.94,52.49 L229.12,52.99 L229.29,53.47 L229.47,53.93 L229.65,54.37 L229.82,54.78 L230.00,55.18 L230.17,55.56 L230.35,55.91 L230.53,56.25 L230.70,56.57 L230.88,56.87 L231.06,57.15 L231.23,57.41 L231.41,57.66 L231.58,57.89 L231.76,58.10 L231.94,58.30 L232.11,58.49 L232.29,58.66 L232.47,58.82 L232.64,58.97 L232.82,59.11 L232.99,59.24 L233.17,59.36 L233.35,59.46 L233.52,59.56 L233.70,59.66" fill="none" stroke="#98a886" stroke-width="0.8" stroke-opacity="0.9"/>
<line x1="187.6" y1="71.70" x2="259.0" y2="71.70" stroke="#c8c3e6" stroke-width="1.0"/>
<path d="M188.30,71.70 L188.30,71.70 L188.88,71.70 L189.47,71.70 L190.05,71.70 L190.63,71.70 L191.22,71.70 L191.80,71.70 L192.38,71.70 L192.97,71.70 L193.55,71.70 L194.13,71.70 L194.72,71.70 L195.30,71.70 L195.88,71.70 L196.47,71.70 L197.05,71.70 L197.63,71.70 L198.22,71.70 L198.80,71.70 L199.38,71.70 L199.97,71.70 L200.55,71.70 L201.13,71.70 L201.72,71.70 L202.30,71.70 L202.88,71.70 L203.47,71.70 L204.05,71.70 L204.63,71.70 L205.22,71.70 L205.80,71.70 L206.38,71.70 L206.97,71.70 L207.55,71.70 L208.13,71.70 L208.72,71.70 L209.30,71.70 L209.88,71.70 L210.47,71.70 L211.05,71.69 L211.63,71.69 L212.22,71.68 L212.80,71.66 L213.38,71.63 L213.97,71.58 L214.55,71.50 L215.13,71.36 L215.72,71.13 L216.30,70.78 L216.88,70.25 L217.47,69.46 L218.05,68.33 L218.63,66.76 L219.22,64.68 L219.80,62.07 L220.38,58.98 L220.97,55.70 L221.55,52.86 L222.13,52.86 L222.72,54.91 L223.30,57.34 L223.88,59.79 L224.47,62.07 L225.05,64.08 L225.63,65.79 L226.22,67.20 L226.80,68.33 L227.38,69.21 L227.97,69.89 L228.55,70.40 L229.13,70.78 L229.72,71.06 L230.30,71.26 L230.88,71.40 L231.47,71.50 L232.05,71.56 L232.63,71.61 L233.22,71.64 L233.80,71.66 L234.38,71.68 L234.97,71.68 L235.55,71.69 L236.13,71.69 L236.72,71.70 L237.30,71.70 L237.88,71.70 L238.47,71.70 L239.05,71.70 L239.63,71.70 L240.22,71.70 L240.80,71.70 L241.38,71.70 L241.97,71.70 L242.55,71.70 L243.13,71.70 L243.72,71.70 L244.30,71.70 L244.88,71.70 L245.47,71.70 L246.05,71.70 L246.63,71.70 L247.22,71.70 L247.80,71.70 L248.38,71.70 L248.97,71.70 L249.55,71.70 L250.13,71.70 L250.72,71.70 L251.30,71.70 L251.88,71.70 L252.47,71.70 L253.05,71.70 L253.63,71.70 L254.22,71.70 L254.80,71.70 L255.38,71.70 L255.97,71.70 L256.55,71.70 L257.13,71.70 L257.72,71.70 L258.30,71.70 L258.30,71.70 Z" fill="#b6b0e6" fill-opacity="0.9" style="mix-blend-mode:multiply"/>
<path d="M216.40,70.71 L216.56,70.57 L216.72,70.43 L216.87,70.26 L217.03,70.08 L217.19,69.87 L217.34,69.65 L217.50,69.40 L217.66,69.13 L217.82,68.82 L217.97,68.49 L218.13,68.13 L218.29,67.74 L218.45,67.31 L218.61,66.85 L218.76,66.34 L218.92,65.80 L219.08,65.23 L219.24,64.61 L219.39,63.95 L219.55,63.25 L219.71,62.51 L219.87,61.74 L220.02,60.94 L220.18,60.10 L220.34,59.24 L220.50,58.36 L220.65,57.47 L220.81,56.58 L220.97,55.70 L221.12,54.85 L221.28,54.04 L221.44,53.31 L221.60,52.69 L221.75,52.26 L221.91,52.34 L222.07,52.69 L222.23,53.14 L222.38,53.67 L222.54,54.24 L222.70,54.85 L222.86,55.48 L223.02,56.14 L223.17,56.80 L223.33,57.47 L223.49,58.14 L223.65,58.80 L223.80,59.46 L223.96,60.10 L224.12,60.73 L224.28,61.34 L224.43,61.94 L224.59,62.51 L224.75,63.07 L224.91,63.60 L225.06,64.12 L225.22,64.61 L225.38,65.07 L225.53,65.52 L225.69,65.94 L225.85,66.34 L226.01,66.72 L226.16,67.08 L226.32,67.42 L226.48,67.74 L226.64,68.04 L226.80,68.32 L226.95,68.58 L227.11,68.82 L227.27,69.05 L227.43,69.27 L227.58,69.46 L227.74,69.65 L227.90,69.82 L228.06,69.98 L228.21,70.12 L228.37,70.26 L228.53,70.39 L228.69,70.50 L228.84,70.61 L229.00,70.71" fill="none" stroke="#6a62a8" stroke-width="0.8" stroke-opacity="0.9"/>
<line x1="187.6" y1="82.80" x2="259.0" y2="82.80" stroke="#e6b985" stroke-width="1.0"/>
<path d="M188.30,82.80 L188.30,82.80 L188.88,82.80 L189.47,82.80 L190.05,82.80 L190.63,82.80 L191.22,82.80 L191.80,82.80 L192.38,82.80 L192.97,82.80 L193.55,82.80 L194.13,82.80 L194.72,82.80 L195.30,82.80 L195.88,82.80 L196.47,82.80 L197.05,82.80 L197.63,82.80 L198.22,82.80 L198.80,82.80 L199.38,82.80 L199.97,82.80 L200.55,82.80 L201.13,82.80 L201.72,82.80 L202.30,82.80 L202.88,82.80 L203.47,82.80 L204.05,82.80 L204.63,82.80 L205.22,82.80 L205.80,82.80 L206.38,82.80 L206.97,82.80 L207.55,82.80 L208.13,82.80 L208.72,82.80 L209.30,82.80 L209.88,82.80 L210.47,82.80 L211.05,82.80 L211.63,82.79 L212.22,82.79 L212.80,82.77 L213.38,82.75 L213.97,82.72 L214.55,82.66 L215.13,82.56 L215.72,82.40 L216.30,82.14 L216.88,81.74 L217.47,81.13 L218.05,80.24 L218.63,78.98 L219.22,77.26 L219.80,75.02 L220.38,72.24 L220.97,69.06 L221.55,65.82 L222.13,63.40 L222.72,64.53 L223.30,66.76 L223.88,69.22 L224.47,71.63 L225.05,73.83 L225.63,75.75 L226.22,77.36 L226.80,78.68 L227.38,79.73 L227.97,80.54 L228.55,81.17 L229.13,81.64 L229.72,81.98 L230.30,82.23 L230.88,82.41 L231.47,82.53 L232.05,82.62 L232.63,82.68 L233.22,82.72 L233.80,82.75 L234.38,82.77 L234.97,82.78 L235.55,82.79 L236.13,82.79 L236.72,82.79 L237.30,82.80 L237.88,82.80 L238.47,82.80 L239.05,82.80 L239.63,82.80 L240.22,82.80 L240.80,82.80 L241.38,82.80 L241.97,82.80 L242.55,82.80 L243.13,82.80 L243.72,82.80 L244.30,82.80 L244.88,82.80 L245.47,82.80 L246.05,82.80 L246.63,82.80 L247.22,82.80 L247.80,82.80 L248.38,82.80 L248.97,82.80 L249.55,82.80 L250.13,82.80 L250.72,82.80 L251.30,82.80 L251.88,82.80 L252.47,82.80 L253.05,82.80 L253.63,82.80 L254.22,82.80 L254.80,82.80 L255.38,82.80 L255.97,82.80 L256.55,82.80 L257.13,82.80 L257.72,82.80 L258.30,82.80 L258.30,82.80 Z" fill="#eeb460" fill-opacity="0.9" style="mix-blend-mode:multiply"/>
<path d="M216.80,81.81 L216.96,81.67 L217.11,81.53 L217.27,81.36 L217.43,81.18 L217.59,80.97 L217.74,80.75 L217.90,80.50 L218.06,80.23 L218.22,79.92 L218.37,79.59 L218.53,79.23 L218.69,78.84 L218.85,78.41 L219.00,77.95 L219.16,77.44 L219.32,76.90 L219.48,76.33 L219.63,75.71 L219.79,75.05 L219.95,74.35 L220.11,73.61 L220.26,72.84 L220.42,72.04 L220.58,71.20 L220.74,70.34 L220.89,69.46 L221.05,68.57 L221.21,67.68 L221.37,66.80 L221.52,65.95 L221.68,65.14 L221.84,64.41 L222.00,63.79 L222.15,63.36 L222.31,63.44 L222.47,63.79 L222.63,64.24 L222.78,64.77 L222.94,65.34 L223.10,65.95 L223.26,66.58 L223.41,67.24 L223.57,67.90 L223.73,68.57 L223.89,69.24 L224.04,69.90 L224.20,70.56 L224.36,71.20 L224.52,71.83 L224.67,72.44 L224.83,73.04 L224.99,73.61 L225.15,74.17 L225.30,74.70 L225.46,75.22 L225.62,75.71 L225.78,76.17 L225.93,76.62 L226.09,77.04 L226.25,77.44 L226.41,77.82 L226.56,78.18 L226.72,78.52 L226.88,78.84 L227.04,79.14 L227.19,79.42 L227.35,79.68 L227.51,79.92 L227.67,80.15 L227.82,80.37 L227.98,80.56 L228.14,80.75 L228.30,80.92 L228.45,81.08 L228.61,81.22 L228.77,81.36 L228.93,81.49 L229.08,81.60 L229.24,81.71 L229.40,81.81" fill="none" stroke="#a86a20" stroke-width="0.8" stroke-opacity="0.9"/>
<line x1="187.6" y1="93.90" x2="259.0" y2="93.90" stroke="#8ea3cc" stroke-width="1.0"/>
<path d="M188.30,93.90 L188.30,93.90 L188.88,93.90 L189.47,93.90 L190.05,93.90 L190.63,93.90 L191.22,93.90 L191.80,93.90 L192.38,93.90 L192.97,93.90 L193.55,93.90 L194.13,93.90 L194.72,93.90 L195.30,93.90 L195.88,93.90 L196.47,93.90 L197.05,93.90 L197.63,93.90 L198.22,93.90 L198.80,93.90 L199.38,93.90 L199.97,93.90 L200.55,93.90 L201.13,93.90 L201.72,93.90 L202.30,93.90 L202.88,93.90 L203.47,93.90 L204.05,93.90 L204.63,93.90 L205.22,93.90 L205.80,93.90 L206.38,93.90 L206.97,93.90 L207.55,93.90 L208.13,93.90 L208.72,93.90 L209.30,93.90 L209.88,93.90 L210.47,93.90 L211.05,93.89 L211.63,93.89 L212.22,93.88 L212.80,93.86 L213.38,93.83 L213.97,93.78 L214.55,93.70 L215.13,93.56 L215.72,93.33 L216.30,92.98 L216.88,92.45 L217.47,91.66 L218.05,90.53 L218.63,88.96 L219.22,86.88 L219.80,84.27 L220.38,81.18 L220.97,77.90 L221.55,75.06 L222.13,75.15 L222.72,77.45 L223.30,80.12 L223.88,82.75 L224.47,85.14 L225.05,87.18 L225.63,88.86 L226.22,90.20 L226.80,91.23 L227.38,92.01 L227.97,92.59 L228.55,93.00 L229.13,93.29 L229.72,93.50 L230.30,93.63 L230.88,93.73 L231.47,93.79 L232.05,93.83 L232.63,93.86 L233.22,93.87 L233.80,93.88 L234.38,93.89 L234.97,93.89 L235.55,93.90 L236.13,93.90 L236.72,93.90 L237.30,93.90 L237.88,93.90 L238.47,93.90 L239.05,93.90 L239.63,93.90 L240.22,93.90 L240.80,93.90 L241.38,93.90 L241.97,93.90 L242.55,93.90 L243.13,93.90 L243.72,93.90 L244.30,93.90 L244.88,93.90 L245.47,93.90 L246.05,93.90 L246.63,93.90 L247.22,93.90 L247.80,93.90 L248.38,93.90 L248.97,93.90 L249.55,93.90 L250.13,93.90 L250.72,93.90 L251.30,93.90 L251.88,93.90 L252.47,93.90 L253.05,93.90 L253.63,93.90 L254.22,93.90 L254.80,93.90 L255.38,93.90 L255.97,93.90 L256.55,93.90 L257.13,93.90 L257.72,93.90 L258.30,93.90 L258.30,93.90 Z" fill="#6a88c2" fill-opacity="0.9" style="mix-blend-mode:multiply"/>
<path d="M216.40,92.91 L216.55,92.78 L216.70,92.64 L216.85,92.49 L217.00,92.31 L217.15,92.12 L217.30,91.92 L217.45,91.69 L217.60,91.43 L217.75,91.16 L217.90,90.85 L218.05,90.53 L218.20,90.17 L218.35,89.78 L218.50,89.36 L218.65,88.91 L218.80,88.42 L218.95,87.90 L219.10,87.34 L219.25,86.75 L219.40,86.12 L219.55,85.45 L219.70,84.75 L219.85,84.02 L220.00,83.25 L220.15,82.46 L220.30,81.65 L220.45,80.81 L220.60,79.97 L220.75,79.12 L220.90,78.27 L221.05,77.45 L221.20,76.66 L221.35,75.92 L221.50,75.26 L221.65,74.72 L221.80,74.40 L221.95,74.64 L222.10,75.05 L222.25,75.55 L222.40,76.11 L222.55,76.73 L222.70,77.38 L222.85,78.05 L223.00,78.73 L223.15,79.43 L223.30,80.12 L223.45,80.81 L223.60,81.50 L223.75,82.17 L223.90,82.82 L224.05,83.46 L224.20,84.08 L224.35,84.68 L224.50,85.26 L224.65,85.82 L224.80,86.35 L224.95,86.86 L225.10,87.34 L225.25,87.80 L225.40,88.23 L225.55,88.65 L225.70,89.03 L225.85,89.40 L226.00,89.74 L226.15,90.06 L226.30,90.37 L226.45,90.65 L226.60,90.91 L226.75,91.16 L226.90,91.38 L227.05,91.60 L227.20,91.79 L227.35,91.97 L227.50,92.14 L227.65,92.30 L227.80,92.44 L227.95,92.57 L228.10,92.69 L228.25,92.80 L228.40,92.91" fill="none" stroke="#1f3a70" stroke-width="0.8" stroke-opacity="0.9"/>
<line x1="187.6" y1="105.00" x2="259.0" y2="105.00" stroke="#e99a9a" stroke-width="1.0"/>
<path d="M188.30,105.00 L188.30,105.00 L188.88,105.00 L189.47,105.00 L190.05,105.00 L190.63,105.00 L191.22,105.00 L191.80,105.00 L192.38,105.00 L192.97,105.00 L193.55,105.00 L194.13,105.00 L194.72,105.00 L195.30,105.00 L195.88,105.00 L196.47,105.00 L197.05,105.00 L197.63,105.00 L198.22,105.00 L198.80,105.00 L199.38,105.00 L199.97,105.00 L200.55,105.00 L201.13,105.00 L201.72,105.00 L202.30,105.00 L202.88,105.00 L203.47,105.00 L204.05,105.00 L204.63,105.00 L205.22,105.00 L205.80,105.00 L206.38,105.00 L206.97,105.00 L207.55,105.00 L208.13,105.00 L208.72,105.00 L209.30,105.00 L209.88,105.00 L210.47,105.00 L211.05,105.00 L211.63,105.00 L212.22,105.00 L212.80,105.00 L213.38,105.00 L213.97,105.00 L214.55,105.00 L215.13,105.00 L215.72,105.00 L216.30,105.00 L216.88,105.00 L217.47,105.00 L218.05,105.00 L218.63,105.00 L219.22,105.00 L219.80,105.00 L220.38,105.00 L220.97,105.00 L221.55,105.00 L222.13,105.00 L222.72,105.00 L223.30,105.00 L223.88,105.00 L224.47,104.99 L225.05,104.99 L225.63,104.97 L226.22,104.95 L226.80,104.91 L227.38,104.84 L227.97,104.72 L228.55,104.53 L229.13,104.20 L229.72,103.69 L230.30,102.90 L230.88,101.72 L231.47,100.05 L232.05,97.77 L232.63,94.82 L233.22,91.27 L233.80,87.45 L234.38,84.15 L234.97,84.58 L235.55,87.50 L236.13,90.76 L236.72,93.85 L237.30,96.56 L237.88,98.79 L238.47,100.54 L239.05,101.88 L239.63,102.86 L240.22,103.56 L240.80,104.05 L241.38,104.39 L241.97,104.61 L242.55,104.76 L243.13,104.85 L243.72,104.91 L244.30,104.95 L244.88,104.97 L245.47,104.98 L246.05,104.99 L246.63,104.99 L247.22,105.00 L247.80,105.00 L248.38,105.00 L248.97,105.00 L249.55,105.00 L250.13,105.00 L250.72,105.00 L251.30,105.00 L251.88,105.00 L252.47,105.00 L253.05,105.00 L253.63,105.00 L254.22,105.00 L254.80,105.00 L255.38,105.00 L255.97,105.00 L256.55,105.00 L257.13,105.00 L257.72,105.00 L258.30,105.00 L258.30,105.00 Z" fill="#f4826f" fill-opacity="0.9" style="mix-blend-mode:multiply"/>
<path d="M229.50,103.90 L229.64,103.77 L229.78,103.62 L229.92,103.45 L230.06,103.27 L230.19,103.06 L230.33,102.84 L230.47,102.60 L230.61,102.33 L230.75,102.03 L230.89,101.71 L231.03,101.36 L231.16,100.98 L231.30,100.57 L231.44,100.13 L231.58,99.65 L231.72,99.14 L231.86,98.59 L232.00,98.00 L232.14,97.37 L232.28,96.71 L232.41,96.01 L232.55,95.27 L232.69,94.49 L232.83,93.68 L232.97,92.84 L233.11,91.97 L233.25,91.08 L233.38,90.18 L233.52,89.26 L233.66,88.34 L233.80,87.44 L233.94,86.56 L234.08,85.72 L234.22,84.95 L234.36,84.26 L234.50,83.73 L234.63,83.53 L234.77,83.87 L234.91,84.36 L235.05,84.95 L235.19,85.60 L235.33,86.30 L235.47,87.04 L235.60,87.80 L235.74,88.57 L235.88,89.35 L236.02,90.13 L236.16,90.90 L236.30,91.66 L236.44,92.41 L236.58,93.14 L236.72,93.85 L236.85,94.53 L236.99,95.19 L237.13,95.82 L237.27,96.43 L237.41,97.01 L237.55,97.56 L237.69,98.09 L237.82,98.59 L237.96,99.06 L238.10,99.50 L238.24,99.92 L238.38,100.31 L238.52,100.68 L238.66,101.02 L238.80,101.35 L238.94,101.65 L239.07,101.92 L239.21,102.18 L239.35,102.42 L239.49,102.65 L239.63,102.85 L239.77,103.04 L239.91,103.22 L240.04,103.38 L240.18,103.53 L240.32,103.66 L240.46,103.79 L240.60,103.90" fill="none" stroke="#b02e28" stroke-width="0.8" stroke-opacity="0.9"/>
<line x1="187.6" y1="116.10" x2="259.0" y2="116.10" stroke="#a893b6" stroke-width="1.0"/>
<path d="M188.30,116.10 L188.30,116.10 L188.88,116.10 L189.47,116.10 L190.05,116.10 L190.63,116.10 L191.22,116.10 L191.80,116.10 L192.38,116.10 L192.97,116.10 L193.55,116.10 L194.13,116.10 L194.72,116.10 L195.30,116.10 L195.88,116.10 L196.47,116.10 L197.05,116.10 L197.63,116.10 L198.22,116.10 L198.80,116.10 L199.38,116.10 L199.97,116.10 L200.55,116.10 L201.13,116.10 L201.72,116.10 L202.30,116.10 L202.88,116.10 L203.47,116.10 L204.05,116.10 L204.63,116.09 L205.22,116.09 L205.80,116.08 L206.38,116.06 L206.97,116.03 L207.55,115.98 L208.13,115.90 L208.72,115.78 L209.30,115.58 L209.88,115.28 L210.47,114.84 L211.05,114.19 L211.63,113.28 L212.22,112.02 L212.80,110.37 L213.38,108.29 L213.97,105.80 L214.55,103.03 L215.13,100.34 L215.72,98.61 L216.30,100.14 L216.88,102.42 L217.47,104.83 L218.05,107.11 L218.63,109.11 L219.22,110.80 L219.80,112.17 L220.38,113.24 L220.97,114.05 L221.55,114.66 L222.13,115.11 L222.72,115.42 L223.30,115.65 L223.88,115.80 L224.47,115.90 L225.05,115.97 L225.63,116.02 L226.22,116.05 L226.80,116.07 L227.38,116.08 L227.97,116.09 L228.55,116.09 L229.13,116.10 L229.72,116.10 L230.30,116.10 L230.88,116.10 L231.47,116.10 L232.05,116.10 L232.63,116.10 L233.22,116.10 L233.80,116.10 L234.38,116.10 L234.97,116.10 L235.55,116.10 L236.13,116.10 L236.72,116.10 L237.30,116.10 L237.88,116.10 L238.47,116.10 L239.05,116.10 L239.63,116.10 L240.22,116.10 L240.80,116.10 L241.38,116.10 L241.97,116.10 L242.55,116.10 L243.13,116.10 L243.72,116.10 L244.30,116.10 L244.88,116.10 L245.47,116.10 L246.05,116.10 L246.63,116.10 L247.22,116.10 L247.80,116.10 L248.38,116.10 L248.97,116.10 L249.55,116.10 L250.13,116.10 L250.72,116.10 L251.30,116.10 L251.88,116.10 L252.47,116.10 L253.05,116.10 L253.63,116.10 L254.22,116.10 L254.80,116.10 L255.38,116.10 L255.97,116.10 L256.55,116.10 L257.13,116.10 L257.72,116.10 L258.30,116.10 L258.30,116.10 Z" fill="#966aae" fill-opacity="0.9" style="mix-blend-mode:multiply"/>
<path d="M210.00,115.21 L210.15,115.10 L210.31,114.98 L210.46,114.84 L210.62,114.70 L210.77,114.53 L210.92,114.35 L211.08,114.16 L211.23,113.94 L211.38,113.70 L211.54,113.45 L211.69,113.17 L211.84,112.86 L212.00,112.54 L212.15,112.18 L212.31,111.80 L212.46,111.39 L212.61,110.95 L212.77,110.48 L212.92,109.98 L213.07,109.45 L213.23,108.88 L213.38,108.29 L213.54,107.67 L213.69,107.02 L213.84,106.35 L214.00,105.66 L214.15,104.94 L214.31,104.21 L214.46,103.47 L214.61,102.73 L214.77,102.00 L214.92,101.28 L215.07,100.60 L215.23,99.95 L215.38,99.38 L215.53,98.90 L215.69,98.61 L215.84,98.80 L216.00,99.17 L216.15,99.63 L216.30,100.15 L216.46,100.72 L216.61,101.31 L216.76,101.93 L216.92,102.57 L217.07,103.20 L217.23,103.84 L217.38,104.48 L217.53,105.10 L217.69,105.72 L217.84,106.32 L217.99,106.90 L218.15,107.47 L218.30,108.01 L218.46,108.54 L218.61,109.04 L218.76,109.52 L218.92,109.98 L219.07,110.41 L219.22,110.82 L219.38,111.21 L219.53,111.58 L219.69,111.92 L219.84,112.25 L219.99,112.55 L220.15,112.84 L220.30,113.10 L220.45,113.35 L220.61,113.58 L220.76,113.79 L220.92,113.99 L221.07,114.17 L221.22,114.34 L221.38,114.50 L221.53,114.64 L221.68,114.78 L221.84,114.90 L221.99,115.01 L222.15,115.11 L222.30,115.21" fill="none" stroke="#4a1e5e" stroke-width="0.8" stroke-opacity="0.9"/>
<path d="M201.40,126.50 L205.56,112.91 Q206.60,109.12 208.08,112.91 L214.00,126.50" fill="none" stroke="#111" stroke-width="0.95" stroke-dasharray="1.3,1.1"/>
<rect x="187.6" y="26.40" width="71.40" height="100.10" fill="none" stroke="#111" stroke-width="1.3"/>
<line x1="190.00" y1="126.50" x2="190.00" y2="128.70" stroke="#1a1a1a" stroke-width="0.85"/>
<line x1="192.30" y1="126.50" x2="192.30" y2="129.70" stroke="#1a1a1a" stroke-width="0.85"/>
<line x1="202.09" y1="126.50" x2="202.09" y2="129.70" stroke="#1a1a1a" stroke-width="0.85"/>
<line x1="206.15" y1="126.50" x2="206.15" y2="128.80" stroke="#1a1a1a" stroke-width="0.85"/>
<line x1="208.53" y1="126.50" x2="208.53" y2="128.80" stroke="#1a1a1a" stroke-width="0.85"/>
<line x1="210.22" y1="126.50" x2="210.22" y2="128.80" stroke="#1a1a1a" stroke-width="0.85"/>
<line x1="211.53" y1="126.50" x2="211.53" y2="128.80" stroke="#1a1a1a" stroke-width="0.85"/>
<line x1="212.60" y1="126.50" x2="212.60" y2="128.80" stroke="#1a1a1a" stroke-width="0.85"/>
<line x1="213.51" y1="126.50" x2="213.51" y2="128.80" stroke="#1a1a1a" stroke-width="0.85"/>
<line x1="214.29" y1="126.50" x2="214.29" y2="128.80" stroke="#1a1a1a" stroke-width="0.85"/>
<line x1="214.98" y1="126.50" x2="214.98" y2="128.80" stroke="#1a1a1a" stroke-width="0.85"/>
<line x1="215.60" y1="126.50" x2="215.60" y2="129.70" stroke="#1a1a1a" stroke-width="0.85"/>
<line x1="220.66" y1="126.50" x2="220.66" y2="128.80" stroke="#1a1a1a" stroke-width="0.85"/>
<line x1="223.62" y1="126.50" x2="223.62" y2="128.80" stroke="#1a1a1a" stroke-width="0.85"/>
<line x1="225.71" y1="126.50" x2="225.71" y2="128.80" stroke="#1a1a1a" stroke-width="0.85"/>
<line x1="227.34" y1="126.50" x2="227.34" y2="128.80" stroke="#1a1a1a" stroke-width="0.85"/>
<line x1="228.67" y1="126.50" x2="228.67" y2="128.80" stroke="#1a1a1a" stroke-width="0.85"/>
<line x1="229.80" y1="126.50" x2="229.80" y2="128.80" stroke="#1a1a1a" stroke-width="0.85"/>
<line x1="230.77" y1="126.50" x2="230.77" y2="128.80" stroke="#1a1a1a" stroke-width="0.85"/>
<line x1="231.63" y1="126.50" x2="231.63" y2="128.80" stroke="#1a1a1a" stroke-width="0.85"/>
<line x1="232.40" y1="126.50" x2="232.40" y2="129.70" stroke="#1a1a1a" stroke-width="0.85"/>
<line x1="237.67" y1="126.50" x2="237.67" y2="128.80" stroke="#1a1a1a" stroke-width="0.85"/>
<line x1="240.75" y1="126.50" x2="240.75" y2="128.80" stroke="#1a1a1a" stroke-width="0.85"/>
<line x1="242.94" y1="126.50" x2="242.94" y2="128.80" stroke="#1a1a1a" stroke-width="0.85"/>
<line x1="244.63" y1="126.50" x2="244.63" y2="128.80" stroke="#1a1a1a" stroke-width="0.85"/>
<line x1="246.02" y1="126.50" x2="246.02" y2="128.80" stroke="#1a1a1a" stroke-width="0.85"/>
<line x1="247.19" y1="126.50" x2="247.19" y2="128.80" stroke="#1a1a1a" stroke-width="0.85"/>
<line x1="248.20" y1="126.50" x2="248.20" y2="128.80" stroke="#1a1a1a" stroke-width="0.85"/>
<line x1="249.10" y1="126.50" x2="249.10" y2="128.80" stroke="#1a1a1a" stroke-width="0.85"/>
<line x1="249.90" y1="126.50" x2="249.90" y2="129.70" stroke="#1a1a1a" stroke-width="0.85"/>
<line x1="255.17" y1="126.50" x2="255.17" y2="128.80" stroke="#1a1a1a" stroke-width="0.85"/>
<text x="192.30" y="139.60" font-size="6.3" text-anchor="middle" fill="#222">0</text>
<text x="215.60" y="139.60" font-size="6.3" text-anchor="middle" fill="#222">10</text>
<text transform="translate(219.20,137.00) scale(0.5)" font-size="8.6" fill="#222" style="stroke-width:0.3px">3</text>
<text x="232.40" y="139.60" font-size="6.3" text-anchor="middle" fill="#222">10</text>
<text transform="translate(236.00,137.00) scale(0.5)" font-size="8.6" fill="#222" style="stroke-width:0.3px">4</text>
<text x="249.90" y="139.60" font-size="6.3" text-anchor="middle" fill="#222">10</text>
<text transform="translate(253.50,139.90) scale(0.5)" font-size="8.6" fill="#222" style="stroke-width:0.3px">5</text>
<line x1="189.1" y1="144.30" x2="254.0" y2="144.30" stroke="#111" stroke-width="1.2"/>
<path d="M251.40,142.10 L257.00,144.30 L251.40,146.50 Z" fill="#111"/>
<text x="182.20" y="173.70" font-size="6.6" text-anchor="middle" fill="#222" style="stroke-width:0.1px">OCI-LY8</text>
<line x1="106" y1="178.70" x2="256.6" y2="178.70" stroke="#666" stroke-width="1.4"/>
<text x="101.8" y="203.00" font-size="6.8" text-anchor="end" fill="#2a2a2a" style="stroke:#2a2a2a;stroke-width:0.16px">cc w/OCI-LY8_Dual knockdown</text>
<text x="101.8" y="214.00" font-size="6.8" text-anchor="end" fill="#2a2a2a" style="stroke:#2a2a2a;stroke-width:0.16px">cc w/OCI-LY8_MYC siRNA</text>
<text x="101.8" y="225.00" font-size="6.8" text-anchor="end" fill="#2a2a2a" style="stroke:#2a2a2a;stroke-width:0.16px">cc w/OCI-LY8_BCL2 siRNA</text>
<text x="101.8" y="236.00" font-size="6.8" text-anchor="end" fill="#2a2a2a" style="stroke:#2a2a2a;stroke-width:0.16px">cc w/OCI-LY8_sc siRNA</text>
<text x="101.8" y="247.00" font-size="6.8" text-anchor="end" fill="#2a2a2a" style="stroke:#2a2a2a;stroke-width:0.16px">M2 − IL4, IL13</text>
<text x="101.8" y="258.00" font-size="6.8" text-anchor="end" fill="#2a2a2a" style="stroke:#2a2a2a;stroke-width:0.16px">M1 − IFN<tspan font-style="italic" font-size="6.2">γ</tspan>, LPS</text>
<text x="101.8" y="269.00" font-size="6.8" text-anchor="end" fill="#2a2a2a" style="stroke:#2a2a2a;stroke-width:0.16px">THP-1 + PMA</text>
<text x="101.8" y="280.00" font-size="6.8" text-anchor="end" fill="#2a2a2a" style="stroke:#2a2a2a;stroke-width:0.16px">Isotype</text>
<line x1="105.5" y1="205.30" x2="177.0" y2="205.30" stroke="#dd82b0" stroke-width="1.0"/>
<path d="M106.20,205.30 L106.20,205.30 L106.78,205.30 L107.37,205.30 L107.95,205.30 L108.54,205.30 L109.12,205.30 L109.70,205.30 L110.29,205.30 L110.87,205.30 L111.46,205.30 L112.04,205.30 L112.63,205.30 L113.21,205.30 L113.79,205.30 L114.38,205.30 L114.96,205.29 L115.55,205.27 L116.13,205.24 L116.72,205.18 L117.30,205.06 L117.88,204.83 L118.47,204.46 L119.05,203.86 L119.64,202.97 L120.22,201.72 L120.80,200.10 L121.39,198.16 L121.97,196.00 L122.56,193.84 L123.14,191.93 L123.73,190.53 L124.31,189.85 L124.89,189.99 L125.48,190.94 L126.06,192.55 L126.65,194.58 L127.23,196.76 L127.81,198.86 L128.40,200.71 L128.98,202.20 L129.57,203.31 L130.15,204.10 L130.74,204.61 L131.32,204.92 L131.90,205.11 L132.49,205.21 L133.07,205.26 L133.66,205.28 L134.24,205.29 L134.82,205.30 L135.41,205.30 L135.99,205.30 L136.58,205.30 L137.16,205.30 L137.75,205.30 L138.33,205.30 L138.91,205.30 L139.50,205.30 L140.08,205.30 L140.67,205.30 L141.25,205.30 L141.83,205.30 L142.42,205.30 L143.00,205.30 L143.59,205.30 L144.17,205.30 L144.75,205.30 L145.34,205.30 L145.92,205.30 L146.51,205.30 L147.09,205.30 L147.68,205.30 L148.26,205.30 L148.84,205.30 L149.43,205.30 L150.01,205.30 L150.60,205.30 L151.18,205.30 L151.77,205.30 L152.35,205.30 L152.93,205.30 L153.52,205.30 L154.10,205.30 L154.69,205.30 L155.27,205.30 L155.85,205.30 L156.44,205.30 L157.02,205.30 L157.61,205.30 L158.19,205.30 L158.78,205.30 L159.36,205.30 L159.94,205.30 L160.53,205.30 L161.11,205.30 L161.70,205.30 L162.28,205.30 L162.86,205.30 L163.45,205.30 L164.03,205.30 L164.62,205.30 L165.20,205.30 L165.79,205.30 L166.37,205.30 L166.95,205.30 L167.54,205.30 L168.12,205.30 L168.71,205.30 L169.29,205.30 L169.87,205.30 L170.46,205.30 L171.04,205.30 L171.63,205.30 L172.21,205.30 L172.80,205.30 L173.38,205.30 L173.96,205.30 L174.55,205.30 L175.13,205.30 L175.72,205.30 L176.30,205.30 L176.30,205.30 Z" fill="#f47fb4" fill-opacity="0.9" style="mix-blend-mode:multiply"/>
<path d="M117.00,205.13 L117.19,205.09 L117.38,205.03 L117.56,204.97 L117.75,204.90 L117.94,204.81 L118.12,204.70 L118.31,204.58 L118.50,204.43 L118.69,204.26 L118.88,204.07 L119.06,203.85 L119.25,203.59 L119.44,203.31 L119.62,202.99 L119.81,202.63 L120.00,202.23 L120.19,201.80 L120.38,201.33 L120.56,200.82 L120.75,200.27 L120.94,199.69 L121.12,199.07 L121.31,198.43 L121.50,197.76 L121.69,197.07 L121.88,196.37 L122.06,195.67 L122.25,194.96 L122.44,194.27 L122.62,193.60 L122.81,192.96 L123.00,192.35 L123.19,191.80 L123.38,191.29 L123.56,190.85 L123.75,190.48 L123.94,190.19 L124.12,189.97 L124.31,189.84 L124.50,189.80 L124.69,189.84 L124.88,189.97 L125.06,190.19 L125.25,190.48 L125.44,190.85 L125.62,191.29 L125.81,191.80 L126.00,192.35 L126.19,192.96 L126.38,193.60 L126.56,194.27 L126.75,194.96 L126.94,195.67 L127.12,196.37 L127.31,197.07 L127.50,197.76 L127.69,198.43 L127.88,199.07 L128.06,199.69 L128.25,200.27 L128.44,200.82 L128.62,201.33 L128.81,201.80 L129.00,202.23 L129.19,202.63 L129.38,202.99 L129.56,203.31 L129.75,203.59 L129.94,203.85 L130.12,204.07 L130.31,204.26 L130.50,204.43 L130.69,204.58 L130.88,204.70 L131.06,204.81 L131.25,204.90 L131.44,204.97 L131.62,205.03 L131.81,205.09 L132.00,205.13" fill="none" stroke="#b8246a" stroke-width="0.8" stroke-opacity="0.9"/>
<line x1="105.5" y1="216.40" x2="177.0" y2="216.40" stroke="#d8dece" stroke-width="1.0"/>
<path d="M106.20,216.40 L106.20,216.40 L106.78,216.40 L107.37,216.40 L107.95,216.40 L108.54,216.40 L109.12,216.40 L109.70,216.40 L110.29,216.40 L110.87,216.40 L111.46,216.40 L112.04,216.40 L112.63,216.40 L113.21,216.40 L113.79,216.40 L114.38,216.40 L114.96,216.40 L115.55,216.40 L116.13,216.40 L116.72,216.40 L117.30,216.40 L117.88,216.40 L118.47,216.40 L119.05,216.40 L119.64,216.40 L120.22,216.40 L120.80,216.40 L121.39,216.40 L121.97,216.40 L122.56,216.40 L123.14,216.40 L123.73,216.40 L124.31,216.39 L124.89,216.39 L125.48,216.37 L126.06,216.34 L126.65,216.28 L127.23,216.17 L127.81,215.98 L128.40,215.65 L128.98,215.11 L129.57,214.24 L130.15,212.95 L130.74,211.11 L131.32,208.67 L131.90,205.71 L132.49,202.57 L133.07,200.12 L133.66,201.01 L134.24,203.43 L134.82,206.09 L135.41,208.57 L135.99,210.68 L136.58,212.37 L137.16,213.65 L137.75,214.57 L138.33,215.22 L138.91,215.66 L139.50,215.94 L140.08,216.13 L140.67,216.24 L141.25,216.31 L141.83,216.35 L142.42,216.37 L143.00,216.38 L143.59,216.39 L144.17,216.40 L144.75,216.40 L145.34,216.40 L145.92,216.40 L146.51,216.40 L147.09,216.40 L147.68,216.40 L148.26,216.40 L148.84,216.40 L149.43,216.40 L150.01,216.40 L150.60,216.40 L151.18,216.40 L151.77,216.40 L152.35,216.40 L152.93,216.40 L153.52,216.40 L154.10,216.40 L154.69,216.40 L155.27,216.40 L155.85,216.40 L156.44,216.40 L157.02,216.40 L157.61,216.40 L158.19,216.40 L158.78,216.40 L159.36,216.40 L159.94,216.40 L160.53,216.40 L161.11,216.40 L161.70,216.40 L162.28,216.40 L162.86,216.40 L163.45,216.40 L164.03,216.40 L164.62,216.40 L165.20,216.40 L165.79,216.40 L166.37,216.40 L166.95,216.40 L167.54,216.40 L168.12,216.40 L168.71,216.40 L169.29,216.40 L169.87,216.40 L170.46,216.40 L171.04,216.40 L171.63,216.40 L172.21,216.40 L172.80,216.40 L173.38,216.40 L173.96,216.40 L174.55,216.40 L175.13,216.40 L175.72,216.40 L176.30,216.40 L176.30,216.40 Z" fill="#d8e2c6" fill-opacity="0.9" style="mix-blend-mode:multiply"/>
<path d="M128.40,215.65 L128.53,215.55 L128.66,215.44 L128.79,215.31 L128.92,215.17 L129.06,215.02 L129.19,214.85 L129.32,214.66 L129.45,214.45 L129.58,214.22 L129.71,213.97 L129.84,213.69 L129.97,213.39 L130.11,213.07 L130.24,212.71 L130.37,212.33 L130.50,211.92 L130.63,211.48 L130.76,211.01 L130.89,210.50 L131.02,209.97 L131.16,209.41 L131.29,208.82 L131.42,208.19 L131.55,207.55 L131.68,206.88 L131.81,206.19 L131.94,205.49 L132.07,204.78 L132.21,204.07 L132.34,203.36 L132.47,202.67 L132.60,202.01 L132.73,201.38 L132.86,200.82 L132.99,200.35 L133.12,200.00 L133.26,199.95 L133.39,200.20 L133.52,200.56 L133.65,200.99 L133.78,201.48 L133.91,202.01 L134.04,202.56 L134.17,203.14 L134.31,203.73 L134.44,204.33 L134.57,204.93 L134.70,205.53 L134.83,206.12 L134.96,206.70 L135.09,207.27 L135.22,207.82 L135.36,208.36 L135.49,208.88 L135.62,209.38 L135.75,209.86 L135.88,210.31 L136.01,210.75 L136.14,211.16 L136.27,211.55 L136.41,211.92 L136.54,212.27 L136.67,212.60 L136.80,212.90 L136.93,213.19 L137.06,213.46 L137.19,213.71 L137.32,213.94 L137.46,214.15 L137.59,214.35 L137.72,214.54 L137.85,214.71 L137.98,214.86 L138.11,215.01 L138.24,215.14 L138.37,215.26 L138.51,215.37 L138.64,215.47 L138.77,215.57 L138.90,215.65" fill="none" stroke="#98a886" stroke-width="0.8" stroke-opacity="0.9"/>
<line x1="105.5" y1="227.50" x2="177.0" y2="227.50" stroke="#c8c3e6" stroke-width="1.0"/>
<path d="M106.20,227.50 L106.20,227.50 L106.78,227.50 L107.37,227.50 L107.95,227.50 L108.54,227.50 L109.12,227.50 L109.70,227.50 L110.29,227.50 L110.87,227.50 L111.46,227.50 L112.04,227.50 L112.63,227.50 L113.21,227.50 L113.79,227.50 L114.38,227.50 L114.96,227.50 L115.55,227.50 L116.13,227.50 L116.72,227.50 L117.30,227.50 L117.88,227.50 L118.47,227.50 L119.05,227.50 L119.64,227.50 L120.22,227.50 L120.80,227.50 L121.39,227.50 L121.97,227.50 L122.56,227.50 L123.14,227.49 L123.73,227.48 L124.31,227.45 L124.89,227.39 L125.48,227.29 L126.06,227.09 L126.65,226.75 L127.23,226.18 L127.81,225.31 L128.40,224.03 L128.98,222.30 L129.57,220.13 L130.15,217.62 L130.74,215.03 L131.32,212.75 L131.90,211.26 L132.49,211.23 L133.07,212.59 L133.66,214.71 L134.24,217.17 L134.82,219.60 L135.41,221.77 L135.99,223.55 L136.58,224.90 L137.16,225.87 L137.75,226.53 L138.33,226.94 L138.91,227.20 L139.50,227.34 L140.08,227.42 L140.67,227.46 L141.25,227.48 L141.83,227.49 L142.42,227.50 L143.00,227.50 L143.59,227.50 L144.17,227.50 L144.75,227.50 L145.34,227.50 L145.92,227.50 L146.51,227.50 L147.09,227.50 L147.68,227.50 L148.26,227.50 L148.84,227.50 L149.43,227.50 L150.01,227.50 L150.60,227.50 L151.18,227.50 L151.77,227.50 L152.35,227.50 L152.93,227.50 L153.52,227.50 L154.10,227.50 L154.69,227.50 L155.27,227.50 L155.85,227.50 L156.44,227.50 L157.02,227.50 L157.61,227.50 L158.19,227.50 L158.78,227.50 L159.36,227.50 L159.94,227.50 L160.53,227.50 L161.11,227.50 L161.70,227.50 L162.28,227.50 L162.86,227.50 L163.45,227.50 L164.03,227.50 L164.62,227.50 L165.20,227.50 L165.79,227.50 L166.37,227.50 L166.95,227.50 L167.54,227.50 L168.12,227.50 L168.71,227.50 L169.29,227.50 L169.87,227.50 L170.46,227.50 L171.04,227.50 L171.63,227.50 L172.21,227.50 L172.80,227.50 L173.38,227.50 L173.96,227.50 L174.55,227.50 L175.13,227.50 L175.72,227.50 L176.30,227.50 L176.30,227.50 Z" fill="#b6b0e6" fill-opacity="0.9" style="mix-blend-mode:multiply"/>
<path d="M125.90,227.16 L126.06,227.09 L126.22,227.01 L126.38,226.92 L126.54,226.82 L126.71,226.70 L126.87,226.56 L127.03,226.41 L127.19,226.23 L127.35,226.03 L127.51,225.80 L127.67,225.55 L127.83,225.27 L128.00,224.96 L128.16,224.61 L128.32,224.23 L128.48,223.82 L128.64,223.37 L128.80,222.89 L128.96,222.37 L129.12,221.81 L129.29,221.22 L129.45,220.60 L129.61,219.96 L129.77,219.28 L129.93,218.59 L130.09,217.88 L130.25,217.16 L130.41,216.44 L130.58,215.73 L130.74,215.02 L130.90,214.34 L131.06,213.70 L131.22,213.09 L131.38,212.54 L131.54,212.05 L131.70,211.64 L131.87,211.32 L132.03,211.10 L132.19,211.00 L132.35,211.07 L132.51,211.26 L132.67,211.55 L132.83,211.92 L132.99,212.36 L133.16,212.86 L133.32,213.42 L133.48,214.02 L133.64,214.65 L133.80,215.31 L133.96,215.98 L134.12,216.67 L134.28,217.36 L134.45,218.04 L134.61,218.72 L134.77,219.38 L134.93,220.02 L135.09,220.63 L135.25,221.22 L135.41,221.79 L135.57,222.32 L135.74,222.82 L135.90,223.29 L136.06,223.72 L136.22,224.12 L136.38,224.49 L136.54,224.83 L136.70,225.14 L136.86,225.43 L137.03,225.68 L137.19,225.91 L137.35,226.11 L137.51,226.30 L137.67,226.46 L137.83,226.60 L137.99,226.73 L138.15,226.84 L138.32,226.94 L138.48,227.02 L138.64,227.09 L138.80,227.16" fill="none" stroke="#6a62a8" stroke-width="0.8" stroke-opacity="0.9"/>
<line x1="105.5" y1="238.60" x2="177.0" y2="238.60" stroke="#e6b985" stroke-width="1.0"/>
<path d="M106.20,238.60 L106.20,238.60 L106.78,238.60 L107.37,238.60 L107.95,238.60 L108.54,238.60 L109.12,238.60 L109.70,238.60 L110.29,238.60 L110.87,238.60 L111.46,238.60 L112.04,238.60 L112.63,238.60 L113.21,238.60 L113.79,238.60 L114.38,238.60 L114.96,238.60 L115.55,238.60 L116.13,238.60 L116.72,238.60 L117.30,238.60 L117.88,238.60 L118.47,238.60 L119.05,238.60 L119.64,238.60 L120.22,238.60 L120.80,238.60 L121.39,238.60 L121.97,238.60 L122.56,238.60 L123.14,238.60 L123.73,238.60 L124.31,238.60 L124.89,238.60 L125.48,238.60 L126.06,238.60 L126.65,238.60 L127.23,238.60 L127.81,238.60 L128.40,238.60 L128.98,238.60 L129.57,238.60 L130.15,238.60 L130.74,238.60 L131.32,238.60 L131.90,238.60 L132.49,238.60 L133.07,238.60 L133.66,238.60 L134.24,238.59 L134.82,238.59 L135.41,238.57 L135.99,238.54 L136.58,238.48 L137.16,238.38 L137.75,238.19 L138.33,237.86 L138.91,237.31 L139.50,236.44 L140.08,235.13 L140.67,233.25 L141.25,230.74 L141.83,227.65 L142.42,224.32 L143.00,221.55 L143.59,222.19 L144.17,225.06 L144.75,228.20 L145.34,231.04 L145.92,233.36 L146.51,235.12 L147.09,236.37 L147.68,237.22 L148.26,237.77 L148.84,238.12 L149.43,238.33 L150.01,238.45 L150.60,238.52 L151.18,238.56 L151.77,238.58 L152.35,238.59 L152.93,238.59 L153.52,238.60 L154.10,238.60 L154.69,238.60 L155.27,238.60 L155.85,238.60 L156.44,238.60 L157.02,238.60 L157.61,238.60 L158.19,238.60 L158.78,238.60 L159.36,238.60 L159.94,238.60 L160.53,238.60 L161.11,238.60 L161.70,238.60 L162.28,238.60 L162.86,238.60 L163.45,238.60 L164.03,238.60 L164.62,238.60 L165.20,238.60 L165.79,238.60 L166.37,238.60 L166.95,238.60 L167.54,238.60 L168.12,238.60 L168.71,238.60 L169.29,238.60 L169.87,238.60 L170.46,238.60 L171.04,238.60 L171.63,238.60 L172.21,238.60 L172.80,238.60 L173.38,238.60 L173.96,238.60 L174.55,238.60 L175.13,238.60 L175.72,238.60 L176.30,238.60 L176.30,238.60 Z" fill="#eeb460" fill-opacity="0.9" style="mix-blend-mode:multiply"/>
<path d="M138.40,237.80 L138.52,237.70 L138.65,237.59 L138.77,237.47 L138.89,237.33 L139.02,237.18 L139.14,237.02 L139.27,236.83 L139.39,236.63 L139.51,236.41 L139.64,236.17 L139.76,235.91 L139.88,235.63 L140.01,235.32 L140.13,234.99 L140.26,234.63 L140.38,234.25 L140.50,233.84 L140.63,233.39 L140.75,232.92 L140.87,232.43 L141.00,231.90 L141.12,231.34 L141.25,230.76 L141.37,230.15 L141.49,229.51 L141.62,228.85 L141.74,228.17 L141.86,227.48 L141.99,226.77 L142.11,226.06 L142.24,225.35 L142.36,224.64 L142.48,223.96 L142.61,223.30 L142.73,222.67 L142.85,222.11 L142.98,221.63 L143.10,221.26 L143.23,221.12 L143.35,221.37 L143.47,221.76 L143.60,222.24 L143.72,222.78 L143.84,223.37 L143.97,224.00 L144.09,224.64 L144.22,225.31 L144.34,225.98 L144.46,226.65 L144.59,227.31 L144.71,227.97 L144.83,228.61 L144.96,229.24 L145.08,229.85 L145.21,230.44 L145.33,231.00 L145.45,231.54 L145.58,232.06 L145.70,232.55 L145.82,233.01 L145.95,233.45 L146.07,233.86 L146.20,234.25 L146.32,234.61 L146.44,234.95 L146.57,235.27 L146.69,235.56 L146.81,235.83 L146.94,236.08 L147.06,236.32 L147.19,236.53 L147.31,236.73 L147.43,236.91 L147.56,237.08 L147.68,237.23 L147.80,237.37 L147.93,237.49 L148.05,237.61 L148.18,237.71 L148.30,237.80" fill="none" stroke="#a86a20" stroke-width="0.8" stroke-opacity="0.9"/>
<line x1="105.5" y1="249.70" x2="177.0" y2="249.70" stroke="#8ea3cc" stroke-width="1.0"/>
<path d="M106.20,249.70 L106.20,249.70 L106.78,249.70 L107.37,249.70 L107.95,249.70 L108.54,249.70 L109.12,249.70 L109.70,249.70 L110.29,249.70 L110.87,249.70 L111.46,249.70 L112.04,249.70 L112.63,249.70 L113.21,249.70 L113.79,249.70 L114.38,249.70 L114.96,249.70 L115.55,249.70 L116.13,249.70 L116.72,249.70 L117.30,249.70 L117.88,249.70 L118.47,249.70 L119.05,249.70 L119.64,249.70 L120.22,249.70 L120.80,249.70 L121.39,249.70 L121.97,249.70 L122.56,249.70 L123.14,249.70 L123.73,249.70 L124.31,249.70 L124.89,249.70 L125.48,249.70 L126.06,249.70 L126.65,249.70 L127.23,249.70 L127.81,249.70 L128.40,249.70 L128.98,249.70 L129.57,249.70 L130.15,249.70 L130.74,249.70 L131.32,249.70 L131.90,249.70 L132.49,249.70 L133.07,249.70 L133.66,249.70 L134.24,249.70 L134.82,249.70 L135.41,249.70 L135.99,249.70 L136.58,249.70 L137.16,249.70 L137.75,249.70 L138.33,249.70 L138.91,249.70 L139.50,249.69 L140.08,249.68 L140.67,249.65 L141.25,249.60 L141.83,249.49 L142.42,249.28 L143.00,248.89 L143.59,248.25 L144.17,247.23 L144.75,245.74 L145.34,243.69 L145.92,241.13 L146.51,238.24 L147.09,235.36 L147.68,233.04 L148.26,231.91 L148.84,232.72 L149.43,234.76 L150.01,237.42 L150.60,240.22 L151.18,242.80 L151.77,244.95 L152.35,246.60 L152.93,247.78 L153.52,248.57 L154.10,249.07 L154.69,249.36 L155.27,249.53 L155.85,249.62 L156.44,249.66 L157.02,249.68 L157.61,249.69 L158.19,249.70 L158.78,249.70 L159.36,249.70 L159.94,249.70 L160.53,249.70 L161.11,249.70 L161.70,249.70 L162.28,249.70 L162.86,249.70 L163.45,249.70 L164.03,249.70 L164.62,249.70 L165.20,249.70 L165.79,249.70 L166.37,249.70 L166.95,249.70 L167.54,249.70 L168.12,249.70 L168.71,249.70 L169.29,249.70 L169.87,249.70 L170.46,249.70 L171.04,249.70 L171.63,249.70 L172.21,249.70 L172.80,249.70 L173.38,249.70 L173.96,249.70 L174.55,249.70 L175.13,249.70 L175.72,249.70 L176.30,249.70 L176.30,249.70 Z" fill="#6a88c2" fill-opacity="0.9" style="mix-blend-mode:multiply"/>
<path d="M142.30,249.33 L142.45,249.26 L142.61,249.17 L142.76,249.08 L142.92,248.97 L143.07,248.84 L143.22,248.69 L143.38,248.52 L143.53,248.33 L143.68,248.11 L143.84,247.87 L143.99,247.59 L144.15,247.29 L144.30,246.95 L144.45,246.58 L144.61,246.17 L144.76,245.72 L144.91,245.24 L145.07,244.71 L145.22,244.15 L145.38,243.55 L145.53,242.91 L145.68,242.24 L145.84,241.54 L145.99,240.81 L146.14,240.06 L146.30,239.30 L146.45,238.52 L146.61,237.74 L146.76,236.97 L146.91,236.21 L147.07,235.48 L147.22,234.78 L147.37,234.13 L147.53,233.54 L147.68,233.02 L147.84,232.58 L147.99,232.23 L148.14,232.00 L148.30,231.90 L148.45,231.98 L148.60,232.19 L148.76,232.50 L148.91,232.91 L149.07,233.38 L149.22,233.93 L149.37,234.53 L149.53,235.18 L149.68,235.86 L149.83,236.57 L149.99,237.30 L150.14,238.04 L150.30,238.78 L150.45,239.52 L150.60,240.24 L150.76,240.95 L150.91,241.64 L151.06,242.31 L151.22,242.94 L151.37,243.55 L151.53,244.12 L151.68,244.66 L151.83,245.16 L151.99,245.63 L152.14,246.06 L152.29,246.46 L152.45,246.83 L152.60,247.16 L152.76,247.47 L152.91,247.74 L153.06,247.99 L153.22,248.21 L153.37,248.40 L153.52,248.58 L153.68,248.73 L153.83,248.87 L153.99,248.99 L154.14,249.09 L154.29,249.18 L154.45,249.26 L154.60,249.33" fill="none" stroke="#1f3a70" stroke-width="0.8" stroke-opacity="0.9"/>
<line x1="105.5" y1="260.80" x2="177.0" y2="260.80" stroke="#e99a9a" stroke-width="1.0"/>
<path d="M106.20,260.80 L106.20,260.80 L106.78,260.80 L107.37,260.80 L107.95,260.80 L108.54,260.80 L109.12,260.80 L109.70,260.80 L110.29,260.80 L110.87,260.80 L111.46,260.80 L112.04,260.80 L112.63,260.80 L113.21,260.80 L113.79,260.79 L114.38,260.78 L114.96,260.76 L115.55,260.72 L116.13,260.64 L116.72,260.52 L117.30,260.30 L117.88,259.95 L118.47,259.42 L119.05,258.65 L119.64,257.59 L120.22,256.20 L120.80,254.47 L121.39,252.48 L121.97,250.33 L122.56,248.20 L123.14,246.32 L123.73,244.95 L124.31,244.31 L124.89,244.66 L125.48,245.83 L126.06,247.57 L126.65,249.65 L127.23,251.82 L127.81,253.88 L128.40,255.69 L128.98,257.19 L129.57,258.35 L130.15,259.21 L130.74,259.81 L131.32,260.21 L131.90,260.46 L132.49,260.61 L133.07,260.70 L133.66,260.75 L134.24,260.77 L134.82,260.79 L135.41,260.79 L135.99,260.80 L136.58,260.80 L137.16,260.80 L137.75,260.80 L138.33,260.80 L138.91,260.80 L139.50,260.80 L140.08,260.80 L140.67,260.80 L141.25,260.80 L141.83,260.80 L142.42,260.80 L143.00,260.80 L143.59,260.80 L144.17,260.80 L144.75,260.80 L145.34,260.80 L145.92,260.80 L146.51,260.80 L147.09,260.80 L147.68,260.80 L148.26,260.80 L148.84,260.80 L149.43,260.80 L150.01,260.80 L150.60,260.80 L151.18,260.80 L151.77,260.80 L152.35,260.80 L152.93,260.80 L153.52,260.80 L154.10,260.80 L154.69,260.80 L155.27,260.80 L155.85,260.80 L156.44,260.80 L157.02,260.80 L157.61,260.80 L158.19,260.80 L158.78,260.80 L159.36,260.80 L159.94,260.80 L160.53,260.80 L161.11,260.80 L161.70,260.80 L162.28,260.80 L162.86,260.80 L163.45,260.80 L164.03,260.80 L164.62,260.80 L165.20,260.80 L165.79,260.80 L166.37,260.80 L166.95,260.80 L167.54,260.80 L168.12,260.80 L168.71,260.80 L169.29,260.80 L169.87,260.80 L170.46,260.80 L171.04,260.80 L171.63,260.80 L172.21,260.80 L172.80,260.80 L173.38,260.80 L173.96,260.80 L174.55,260.80 L175.13,260.80 L175.72,260.80 L176.30,260.80 L176.30,260.80 Z" fill="#f4826f" fill-opacity="0.9" style="mix-blend-mode:multiply"/>
<path d="M116.60,260.55 L116.80,260.49 L116.99,260.43 L117.19,260.35 L117.38,260.26 L117.58,260.15 L117.77,260.03 L117.97,259.89 L118.16,259.73 L118.36,259.54 L118.55,259.33 L118.75,259.09 L118.94,258.82 L119.14,258.52 L119.33,258.18 L119.53,257.81 L119.72,257.41 L119.92,256.96 L120.11,256.48 L120.31,255.96 L120.50,255.41 L120.70,254.82 L120.89,254.20 L121.09,253.54 L121.28,252.87 L121.48,252.17 L121.67,251.45 L121.87,250.73 L122.06,250.00 L122.26,249.28 L122.45,248.57 L122.65,247.89 L122.84,247.24 L123.04,246.63 L123.23,246.07 L123.43,245.57 L123.62,245.14 L123.82,244.79 L124.01,244.53 L124.21,244.36 L124.40,244.30 L124.60,244.36 L124.79,244.53 L124.99,244.79 L125.18,245.14 L125.38,245.57 L125.57,246.07 L125.77,246.63 L125.96,247.24 L126.16,247.89 L126.35,248.57 L126.55,249.28 L126.74,250.00 L126.94,250.73 L127.13,251.45 L127.33,252.17 L127.52,252.87 L127.72,253.54 L127.91,254.20 L128.11,254.82 L128.30,255.41 L128.50,255.96 L128.69,256.48 L128.89,256.96 L129.08,257.41 L129.28,257.81 L129.47,258.18 L129.67,258.52 L129.86,258.82 L130.06,259.09 L130.25,259.33 L130.45,259.54 L130.64,259.73 L130.84,259.89 L131.03,260.03 L131.23,260.15 L131.42,260.26 L131.62,260.35 L131.81,260.43 L132.01,260.49 L132.20,260.55" fill="none" stroke="#b02e28" stroke-width="0.8" stroke-opacity="0.9"/>
<line x1="105.5" y1="271.90" x2="177.0" y2="271.90" stroke="#a893b6" stroke-width="1.0"/>
<path d="M106.20,271.90 L106.20,271.90 L106.78,271.90 L107.37,271.90 L107.95,271.90 L108.54,271.90 L109.12,271.90 L109.70,271.90 L110.29,271.90 L110.87,271.90 L111.46,271.90 L112.04,271.90 L112.63,271.90 L113.21,271.90 L113.79,271.90 L114.38,271.89 L114.96,271.88 L115.55,271.86 L116.13,271.82 L116.72,271.74 L117.30,271.60 L117.88,271.36 L118.47,270.97 L119.05,270.38 L119.64,269.52 L120.22,268.34 L120.80,266.81 L121.39,264.95 L121.97,262.84 L122.56,260.66 L123.14,258.62 L123.73,256.99 L124.31,256.04 L124.89,256.04 L125.48,256.99 L126.06,258.63 L126.65,260.67 L127.23,262.85 L127.81,264.96 L128.40,266.81 L128.98,268.35 L129.57,269.53 L130.15,270.38 L130.74,270.97 L131.32,271.36 L131.90,271.60 L132.49,271.74 L133.07,271.82 L133.66,271.86 L134.24,271.88 L134.82,271.89 L135.41,271.90 L135.99,271.90 L136.58,271.90 L137.16,271.90 L137.75,271.90 L138.33,271.90 L138.91,271.90 L139.50,271.90 L140.08,271.90 L140.67,271.90 L141.25,271.90 L141.83,271.90 L142.42,271.90 L143.00,271.90 L143.59,271.90 L144.17,271.90 L144.75,271.90 L145.34,271.90 L145.92,271.90 L146.51,271.90 L147.09,271.90 L147.68,271.90 L148.26,271.90 L148.84,271.90 L149.43,271.90 L150.01,271.90 L150.60,271.90 L151.18,271.90 L151.77,271.90 L152.35,271.90 L152.93,271.90 L153.52,271.90 L154.10,271.90 L154.69,271.90 L155.27,271.90 L155.85,271.90 L156.44,271.90 L157.02,271.90 L157.61,271.90 L158.19,271.90 L158.78,271.90 L159.36,271.90 L159.94,271.90 L160.53,271.90 L161.11,271.90 L161.70,271.90 L162.28,271.90 L162.86,271.90 L163.45,271.90 L164.03,271.90 L164.62,271.90 L165.20,271.90 L165.79,271.90 L166.37,271.90 L166.95,271.90 L167.54,271.90 L168.12,271.90 L168.71,271.90 L169.29,271.90 L169.87,271.90 L170.46,271.90 L171.04,271.90 L171.63,271.90 L172.21,271.90 L172.80,271.90 L173.38,271.90 L173.96,271.90 L174.55,271.90 L175.13,271.90 L175.72,271.90 L176.30,271.90 L176.30,271.90 Z" fill="#966aae" fill-opacity="0.9" style="mix-blend-mode:multiply"/>
<path d="M117.10,271.65 L117.29,271.60 L117.47,271.54 L117.66,271.46 L117.85,271.38 L118.04,271.27 L118.22,271.15 L118.41,271.02 L118.60,270.86 L118.79,270.68 L118.97,270.47 L119.16,270.24 L119.35,269.98 L119.54,269.69 L119.72,269.36 L119.91,269.00 L120.10,268.61 L120.29,268.18 L120.47,267.71 L120.66,267.21 L120.85,266.67 L121.04,266.10 L121.22,265.50 L121.41,264.86 L121.60,264.21 L121.79,263.53 L121.97,262.83 L122.16,262.13 L122.35,261.43 L122.54,260.73 L122.72,260.04 L122.91,259.38 L123.10,258.75 L123.29,258.16 L123.47,257.62 L123.66,257.13 L123.85,256.72 L124.04,256.38 L124.22,256.12 L124.41,255.96 L124.60,255.90 L124.79,255.96 L124.97,256.12 L125.16,256.38 L125.35,256.72 L125.54,257.13 L125.72,257.62 L125.91,258.16 L126.10,258.75 L126.29,259.38 L126.47,260.04 L126.66,260.73 L126.85,261.43 L127.04,262.13 L127.22,262.83 L127.41,263.53 L127.60,264.21 L127.79,264.86 L127.97,265.50 L128.16,266.10 L128.35,266.67 L128.54,267.21 L128.72,267.71 L128.91,268.18 L129.10,268.61 L129.29,269.00 L129.47,269.36 L129.66,269.69 L129.85,269.98 L130.04,270.24 L130.22,270.47 L130.41,270.68 L130.60,270.86 L130.79,271.02 L130.97,271.15 L131.16,271.27 L131.35,271.38 L131.54,271.46 L131.72,271.54 L131.91,271.60 L132.10,271.65" fill="none" stroke="#4a1e5e" stroke-width="0.8" stroke-opacity="0.9"/>
<path d="M112.90,282.30 L115.94,265.62 Q116.70,260.96 117.86,265.62 L122.50,282.30" fill="none" stroke="#111" stroke-width="0.95" stroke-dasharray="1.3,1.1"/>
<rect x="105.5" y="182.20" width="71.50" height="100.10" fill="none" stroke="#111" stroke-width="1.3"/>
<line x1="108.90" y1="282.30" x2="108.90" y2="284.50" stroke="#1a1a1a" stroke-width="0.85"/>
<line x1="106.60" y1="282.30" x2="106.60" y2="284.50" stroke="#1a1a1a" stroke-width="0.85"/>
<line x1="111.20" y1="282.30" x2="111.20" y2="285.50" stroke="#1a1a1a" stroke-width="0.85"/>
<line x1="117.16" y1="282.30" x2="117.16" y2="285.50" stroke="#1a1a1a" stroke-width="0.85"/>
<line x1="119.64" y1="282.30" x2="119.64" y2="284.60" stroke="#1a1a1a" stroke-width="0.85"/>
<line x1="121.09" y1="282.30" x2="121.09" y2="284.60" stroke="#1a1a1a" stroke-width="0.85"/>
<line x1="122.12" y1="282.30" x2="122.12" y2="284.60" stroke="#1a1a1a" stroke-width="0.85"/>
<line x1="122.92" y1="282.30" x2="122.92" y2="284.60" stroke="#1a1a1a" stroke-width="0.85"/>
<line x1="123.57" y1="282.30" x2="123.57" y2="284.60" stroke="#1a1a1a" stroke-width="0.85"/>
<line x1="124.12" y1="282.30" x2="124.12" y2="284.60" stroke="#1a1a1a" stroke-width="0.85"/>
<line x1="124.60" y1="282.30" x2="124.60" y2="284.60" stroke="#1a1a1a" stroke-width="0.85"/>
<line x1="125.02" y1="282.30" x2="125.02" y2="284.60" stroke="#1a1a1a" stroke-width="0.85"/>
<line x1="125.40" y1="282.30" x2="125.40" y2="285.50" stroke="#1a1a1a" stroke-width="0.85"/>
<line x1="131.66" y1="282.30" x2="131.66" y2="284.60" stroke="#1a1a1a" stroke-width="0.85"/>
<line x1="135.32" y1="282.30" x2="135.32" y2="284.60" stroke="#1a1a1a" stroke-width="0.85"/>
<line x1="137.92" y1="282.30" x2="137.92" y2="284.60" stroke="#1a1a1a" stroke-width="0.85"/>
<line x1="139.94" y1="282.30" x2="139.94" y2="284.60" stroke="#1a1a1a" stroke-width="0.85"/>
<line x1="141.59" y1="282.30" x2="141.59" y2="284.60" stroke="#1a1a1a" stroke-width="0.85"/>
<line x1="142.98" y1="282.30" x2="142.98" y2="284.60" stroke="#1a1a1a" stroke-width="0.85"/>
<line x1="144.18" y1="282.30" x2="144.18" y2="284.60" stroke="#1a1a1a" stroke-width="0.85"/>
<line x1="145.25" y1="282.30" x2="145.25" y2="284.60" stroke="#1a1a1a" stroke-width="0.85"/>
<line x1="146.20" y1="282.30" x2="146.20" y2="285.50" stroke="#1a1a1a" stroke-width="0.85"/>
<line x1="152.46" y1="282.30" x2="152.46" y2="284.60" stroke="#1a1a1a" stroke-width="0.85"/>
<line x1="156.12" y1="282.30" x2="156.12" y2="284.60" stroke="#1a1a1a" stroke-width="0.85"/>
<line x1="158.72" y1="282.30" x2="158.72" y2="284.60" stroke="#1a1a1a" stroke-width="0.85"/>
<line x1="160.74" y1="282.30" x2="160.74" y2="284.60" stroke="#1a1a1a" stroke-width="0.85"/>
<line x1="162.39" y1="282.30" x2="162.39" y2="284.60" stroke="#1a1a1a" stroke-width="0.85"/>
<line x1="163.78" y1="282.30" x2="163.78" y2="284.60" stroke="#1a1a1a" stroke-width="0.85"/>
<line x1="164.98" y1="282.30" x2="164.98" y2="284.60" stroke="#1a1a1a" stroke-width="0.85"/>
<line x1="166.05" y1="282.30" x2="166.05" y2="284.60" stroke="#1a1a1a" stroke-width="0.85"/>
<line x1="167.00" y1="282.30" x2="167.00" y2="285.50" stroke="#1a1a1a" stroke-width="0.85"/>
<line x1="173.26" y1="282.30" x2="173.26" y2="284.60" stroke="#1a1a1a" stroke-width="0.85"/>
<text x="111.20" y="295.40" font-size="6.3" text-anchor="middle" fill="#222">0</text>
<text x="125.40" y="295.40" font-size="6.3" text-anchor="middle" fill="#222">10</text>
<text transform="translate(129.00,292.80) scale(0.5)" font-size="8.6" fill="#222" style="stroke-width:0.3px">3</text>
<text x="146.20" y="295.40" font-size="6.3" text-anchor="middle" fill="#222">10</text>
<text transform="translate(149.80,292.80) scale(0.5)" font-size="8.6" fill="#222" style="stroke-width:0.3px">4</text>
<text x="167.00" y="295.40" font-size="6.3" text-anchor="middle" fill="#222">10</text>
<text transform="translate(170.60,292.80) scale(0.5)" font-size="8.6" fill="#222" style="stroke-width:0.3px">5</text>
<line x1="107.0" y1="300.10" x2="172.0" y2="300.10" stroke="#111" stroke-width="1.2"/>
<path d="M169.40,297.90 L175.00,300.10 L169.40,302.30 Z" fill="#111"/>
<line x1="187.6" y1="205.30" x2="259.0" y2="205.30" stroke="#dd82b0" stroke-width="1.0"/>
<path d="M188.30,205.30 L188.30,205.30 L188.88,205.30 L189.47,205.30 L190.05,205.30 L190.63,205.30 L191.22,205.30 L191.80,205.30 L192.38,205.30 L192.97,205.30 L193.55,205.30 L194.13,205.30 L194.72,205.30 L195.30,205.30 L195.88,205.30 L196.47,205.30 L197.05,205.30 L197.63,205.30 L198.22,205.30 L198.80,205.30 L199.38,205.30 L199.97,205.30 L200.55,205.30 L201.13,205.30 L201.72,205.30 L202.30,205.30 L202.88,205.30 L203.47,205.30 L204.05,205.30 L204.63,205.30 L205.22,205.30 L205.80,205.30 L206.38,205.30 L206.97,205.29 L207.55,205.28 L208.13,205.26 L208.72,205.22 L209.30,205.14 L209.88,204.99 L210.47,204.73 L211.05,204.30 L211.63,203.63 L212.22,202.64 L212.80,201.25 L213.38,199.42 L213.97,197.20 L214.55,194.70 L215.13,192.17 L215.72,189.97 L216.30,188.55 L216.88,188.49 L217.47,189.70 L218.05,191.61 L218.63,193.88 L219.22,196.21 L219.80,198.39 L220.38,200.26 L220.97,201.78 L221.55,202.94 L222.13,203.77 L222.72,204.35 L223.30,204.73 L223.88,204.97 L224.47,205.12 L225.05,205.20 L225.63,205.25 L226.22,205.27 L226.80,205.29 L227.38,205.29 L227.97,205.30 L228.55,205.30 L229.13,205.30 L229.72,205.30 L230.30,205.30 L230.88,205.30 L231.47,205.30 L232.05,205.30 L232.63,205.30 L233.22,205.30 L233.80,205.30 L234.38,205.30 L234.97,205.30 L235.55,205.30 L236.13,205.30 L236.72,205.30 L237.30,205.30 L237.88,205.30 L238.47,205.30 L239.05,205.30 L239.63,205.30 L240.22,205.30 L240.80,205.30 L241.38,205.30 L241.97,205.30 L242.55,205.30 L243.13,205.30 L243.72,205.30 L244.30,205.30 L244.88,205.30 L245.47,205.30 L246.05,205.30 L246.63,205.30 L247.22,205.30 L247.80,205.30 L248.38,205.30 L248.97,205.30 L249.55,205.30 L250.13,205.30 L250.72,205.30 L251.30,205.30 L251.88,205.30 L252.47,205.30 L253.05,205.30 L253.63,205.30 L254.22,205.30 L254.80,205.30 L255.38,205.30 L255.97,205.30 L256.55,205.30 L257.13,205.30 L257.72,205.30 L258.30,205.30 L258.30,205.30 Z" fill="#f47fb4" fill-opacity="0.9" style="mix-blend-mode:multiply"/>
<path d="M210.00,204.95 L210.17,204.88 L210.34,204.79 L210.52,204.70 L210.69,204.59 L210.86,204.46 L211.03,204.32 L211.21,204.15 L211.38,203.96 L211.55,203.74 L211.72,203.50 L211.90,203.23 L212.07,202.92 L212.24,202.58 L212.41,202.21 L212.59,201.80 L212.76,201.36 L212.93,200.87 L213.10,200.35 L213.28,199.79 L213.45,199.19 L213.62,198.55 L213.79,197.89 L213.97,197.19 L214.14,196.47 L214.31,195.73 L214.48,194.98 L214.66,194.22 L214.83,193.47 L215.00,192.72 L215.17,192.00 L215.35,191.30 L215.52,190.65 L215.69,190.05 L215.86,189.52 L216.04,189.06 L216.21,188.70 L216.38,188.44 L216.56,188.31 L216.73,188.35 L216.90,188.51 L217.07,188.78 L217.25,189.13 L217.42,189.56 L217.59,190.05 L217.76,190.60 L217.94,191.19 L218.11,191.82 L218.28,192.48 L218.45,193.16 L218.62,193.85 L218.80,194.54 L218.97,195.23 L219.14,195.92 L219.31,196.59 L219.49,197.25 L219.66,197.89 L219.83,198.50 L220.00,199.08 L220.18,199.64 L220.35,200.16 L220.52,200.66 L220.69,201.12 L220.87,201.55 L221.04,201.94 L221.21,202.31 L221.38,202.64 L221.56,202.95 L221.73,203.23 L221.90,203.48 L222.07,203.70 L222.25,203.91 L222.42,204.09 L222.59,204.25 L222.76,204.39 L222.94,204.52 L223.11,204.63 L223.28,204.72 L223.45,204.81 L223.63,204.88 L223.80,204.95" fill="none" stroke="#b8246a" stroke-width="0.8" stroke-opacity="0.9"/>
<line x1="187.6" y1="216.40" x2="259.0" y2="216.40" stroke="#d8dece" stroke-width="1.0"/>
<path d="M188.30,216.40 L188.30,216.40 L188.88,216.40 L189.47,216.40 L190.05,216.40 L190.63,216.40 L191.22,216.40 L191.80,216.40 L192.38,216.40 L192.97,216.40 L193.55,216.40 L194.13,216.40 L194.72,216.40 L195.30,216.40 L195.88,216.40 L196.47,216.40 L197.05,216.40 L197.63,216.40 L198.22,216.40 L198.80,216.40 L199.38,216.40 L199.97,216.40 L200.55,216.40 L201.13,216.40 L201.72,216.40 L202.30,216.40 L202.88,216.40 L203.47,216.40 L204.05,216.40 L204.63,216.40 L205.22,216.40 L205.80,216.40 L206.38,216.40 L206.97,216.40 L207.55,216.40 L208.13,216.40 L208.72,216.40 L209.30,216.40 L209.88,216.40 L210.47,216.40 L211.05,216.40 L211.63,216.40 L212.22,216.40 L212.80,216.40 L213.38,216.40 L213.97,216.40 L214.55,216.39 L215.13,216.39 L215.72,216.37 L216.30,216.33 L216.88,216.27 L217.47,216.13 L218.05,215.89 L218.63,215.46 L219.22,214.74 L219.80,213.58 L220.38,211.83 L220.97,209.36 L221.55,206.17 L222.13,202.54 L222.72,199.26 L223.30,199.25 L223.88,202.30 L224.47,205.72 L225.05,208.80 L225.63,211.27 L226.22,213.10 L226.80,214.36 L227.38,215.19 L227.97,215.70 L228.55,216.01 L229.13,216.19 L229.72,216.29 L230.30,216.35 L230.88,216.37 L231.47,216.39 L232.05,216.39 L232.63,216.40 L233.22,216.40 L233.80,216.40 L234.38,216.40 L234.97,216.40 L235.55,216.40 L236.13,216.40 L236.72,216.40 L237.30,216.40 L237.88,216.40 L238.47,216.40 L239.05,216.40 L239.63,216.40 L240.22,216.40 L240.80,216.40 L241.38,216.40 L241.97,216.40 L242.55,216.40 L243.13,216.40 L243.72,216.40 L244.30,216.40 L244.88,216.40 L245.47,216.40 L246.05,216.40 L246.63,216.40 L247.22,216.40 L247.80,216.40 L248.38,216.40 L248.97,216.40 L249.55,216.40 L250.13,216.40 L250.72,216.40 L251.30,216.40 L251.88,216.40 L252.47,216.40 L253.05,216.40 L253.63,216.40 L254.22,216.40 L254.80,216.40 L255.38,216.40 L255.97,216.40 L256.55,216.40 L257.13,216.40 L257.72,216.40 L258.30,216.40 L258.30,216.40 Z" fill="#d8e2c6" fill-opacity="0.9" style="mix-blend-mode:multiply"/>
<path d="M218.50,215.58 L218.62,215.48 L218.73,215.36 L218.85,215.24 L218.97,215.09 L219.08,214.94 L219.20,214.77 L219.31,214.58 L219.43,214.37 L219.55,214.15 L219.66,213.90 L219.78,213.63 L219.90,213.34 L220.01,213.02 L220.13,212.68 L220.24,212.31 L220.36,211.91 L220.48,211.48 L220.59,211.03 L220.71,210.54 L220.82,210.03 L220.94,209.48 L221.06,208.91 L221.17,208.30 L221.29,207.67 L221.41,207.02 L221.52,206.34 L221.64,205.64 L221.75,204.92 L221.87,204.19 L221.99,203.46 L222.10,202.72 L222.22,202.00 L222.34,201.29 L222.45,200.61 L222.57,199.98 L222.69,199.40 L222.80,198.91 L222.92,198.54 L223.03,198.43 L223.15,198.70 L223.27,199.11 L223.38,199.61 L223.50,200.17 L223.62,200.78 L223.73,201.42 L223.85,202.09 L223.96,202.77 L224.08,203.46 L224.20,204.15 L224.31,204.83 L224.43,205.50 L224.55,206.16 L224.66,206.81 L224.78,207.43 L224.89,208.03 L225.01,208.61 L225.13,209.16 L225.24,209.69 L225.36,210.19 L225.48,210.67 L225.59,211.12 L225.71,211.54 L225.82,211.94 L225.94,212.31 L226.06,212.66 L226.17,212.98 L226.29,213.28 L226.41,213.56 L226.52,213.82 L226.64,214.06 L226.75,214.28 L226.87,214.48 L226.99,214.66 L227.10,214.83 L227.22,214.99 L227.34,215.13 L227.45,215.26 L227.57,215.38 L227.68,215.48 L227.80,215.58" fill="none" stroke="#98a886" stroke-width="0.8" stroke-opacity="0.9"/>
<line x1="187.6" y1="227.50" x2="259.0" y2="227.50" stroke="#c8c3e6" stroke-width="1.0"/>
<path d="M188.30,227.50 L188.30,227.50 L188.88,227.50 L189.47,227.50 L190.05,227.50 L190.63,227.50 L191.22,227.50 L191.80,227.50 L192.38,227.50 L192.97,227.50 L193.55,227.50 L194.13,227.50 L194.72,227.50 L195.30,227.50 L195.88,227.50 L196.47,227.50 L197.05,227.50 L197.63,227.50 L198.22,227.50 L198.80,227.50 L199.38,227.50 L199.97,227.50 L200.55,227.50 L201.13,227.50 L201.72,227.50 L202.30,227.50 L202.88,227.50 L203.47,227.50 L204.05,227.50 L204.63,227.50 L205.22,227.50 L205.80,227.50 L206.38,227.50 L206.97,227.50 L207.55,227.50 L208.13,227.50 L208.72,227.50 L209.30,227.50 L209.88,227.50 L210.47,227.50 L211.05,227.50 L211.63,227.50 L212.22,227.50 L212.80,227.50 L213.38,227.50 L213.97,227.50 L214.55,227.50 L215.13,227.50 L215.72,227.50 L216.30,227.50 L216.88,227.50 L217.47,227.50 L218.05,227.50 L218.63,227.50 L219.22,227.50 L219.80,227.50 L220.38,227.50 L220.97,227.50 L221.55,227.50 L222.13,227.50 L222.72,227.50 L223.30,227.50 L223.88,227.50 L224.47,227.50 L225.05,227.49 L225.63,227.48 L226.22,227.44 L226.80,227.36 L227.38,227.17 L227.97,226.77 L228.55,225.99 L229.13,224.54 L229.72,222.13 L230.30,218.52 L230.88,213.89 L231.47,209.44 L232.05,209.86 L232.63,213.75 L233.22,217.78 L233.80,221.13 L234.38,223.58 L234.97,225.22 L235.55,226.24 L236.13,226.83 L236.72,227.16 L237.30,227.34 L237.88,227.42 L238.47,227.47 L239.05,227.49 L239.63,227.49 L240.22,227.50 L240.80,227.50 L241.38,227.50 L241.97,227.50 L242.55,227.50 L243.13,227.50 L243.72,227.50 L244.30,227.50 L244.88,227.50 L245.47,227.50 L246.05,227.50 L246.63,227.50 L247.22,227.50 L247.80,227.50 L248.38,227.50 L248.97,227.50 L249.55,227.50 L250.13,227.50 L250.72,227.50 L251.30,227.50 L251.88,227.50 L252.47,227.50 L253.05,227.50 L253.63,227.50 L254.22,227.50 L254.80,227.50 L255.38,227.50 L255.97,227.50 L256.55,227.50 L257.13,227.50 L257.72,227.50 L258.30,227.50 L258.30,227.50 Z" fill="#b6b0e6" fill-opacity="0.9" style="mix-blend-mode:multiply"/>
<path d="M228.10,226.64 L228.20,226.52 L228.29,226.39 L228.39,226.25 L228.49,226.09 L228.59,225.92 L228.69,225.72 L228.78,225.51 L228.88,225.27 L228.98,225.01 L229.07,224.73 L229.17,224.42 L229.27,224.08 L229.37,223.71 L229.47,223.31 L229.56,222.88 L229.66,222.42 L229.76,221.92 L229.85,221.39 L229.95,220.82 L230.05,220.22 L230.15,219.58 L230.24,218.91 L230.34,218.21 L230.44,217.48 L230.54,216.72 L230.63,215.94 L230.73,215.15 L230.83,214.34 L230.93,213.53 L231.02,212.72 L231.12,211.92 L231.22,211.15 L231.32,210.43 L231.41,209.76 L231.51,209.19 L231.61,208.73 L231.71,208.50 L231.80,208.73 L231.90,209.11 L232.00,209.59 L232.10,210.13 L232.19,210.73 L232.29,211.37 L232.39,212.03 L232.49,212.72 L232.58,213.41 L232.68,214.11 L232.78,214.80 L232.88,215.49 L232.97,216.17 L233.07,216.83 L233.17,217.48 L233.27,218.11 L233.36,218.71 L233.46,219.30 L233.56,219.86 L233.66,220.39 L233.75,220.90 L233.85,221.39 L233.95,221.84 L234.05,222.28 L234.14,222.68 L234.24,223.07 L234.34,223.43 L234.44,223.76 L234.53,224.08 L234.63,224.37 L234.73,224.64 L234.83,224.89 L234.92,225.12 L235.02,225.34 L235.12,225.54 L235.22,225.72 L235.31,225.89 L235.41,226.04 L235.51,226.18 L235.61,226.31 L235.70,226.43 L235.80,226.54 L235.90,226.64" fill="none" stroke="#6a62a8" stroke-width="0.8" stroke-opacity="0.9"/>
<line x1="187.6" y1="238.60" x2="259.0" y2="238.60" stroke="#e6b985" stroke-width="1.0"/>
<path d="M188.30,238.60 L188.30,238.60 L188.88,238.60 L189.47,238.60 L190.05,238.60 L190.63,238.60 L191.22,238.60 L191.80,238.60 L192.38,238.60 L192.97,238.60 L193.55,238.60 L194.13,238.60 L194.72,238.60 L195.30,238.60 L195.88,238.60 L196.47,238.60 L197.05,238.60 L197.63,238.60 L198.22,238.60 L198.80,238.60 L199.38,238.60 L199.97,238.60 L200.55,238.60 L201.13,238.60 L201.72,238.60 L202.30,238.60 L202.88,238.60 L203.47,238.60 L204.05,238.60 L204.63,238.60 L205.22,238.60 L205.80,238.60 L206.38,238.60 L206.97,238.60 L207.55,238.60 L208.13,238.60 L208.72,238.60 L209.30,238.60 L209.88,238.60 L210.47,238.60 L211.05,238.60 L211.63,238.60 L212.22,238.60 L212.80,238.60 L213.38,238.60 L213.97,238.60 L214.55,238.60 L215.13,238.60 L215.72,238.60 L216.30,238.60 L216.88,238.60 L217.47,238.60 L218.05,238.60 L218.63,238.60 L219.22,238.60 L219.80,238.60 L220.38,238.60 L220.97,238.60 L221.55,238.60 L222.13,238.60 L222.72,238.60 L223.30,238.59 L223.88,238.59 L224.47,238.57 L225.05,238.53 L225.63,238.46 L226.22,238.33 L226.80,238.08 L227.38,237.63 L227.97,236.88 L228.55,235.67 L229.13,233.84 L229.72,231.23 L230.30,227.84 L230.88,223.92 L231.47,220.28 L232.05,219.80 L232.63,223.01 L233.22,226.72 L233.80,230.11 L234.38,232.84 L234.97,234.88 L235.55,236.29 L236.13,237.22 L236.72,237.81 L237.30,238.16 L237.88,238.36 L238.47,238.48 L239.05,238.54 L239.63,238.57 L240.22,238.59 L240.80,238.59 L241.38,238.60 L241.97,238.60 L242.55,238.60 L243.13,238.60 L243.72,238.60 L244.30,238.60 L244.88,238.60 L245.47,238.60 L246.05,238.60 L246.63,238.60 L247.22,238.60 L247.80,238.60 L248.38,238.60 L248.97,238.60 L249.55,238.60 L250.13,238.60 L250.72,238.60 L251.30,238.60 L251.88,238.60 L252.47,238.60 L253.05,238.60 L253.63,238.60 L254.22,238.60 L254.80,238.60 L255.38,238.60 L255.97,238.60 L256.55,238.60 L257.13,238.60 L257.72,238.60 L258.30,238.60 L258.30,238.60 Z" fill="#eeb460" fill-opacity="0.9" style="mix-blend-mode:multiply"/>
<path d="M227.30,237.71 L227.42,237.60 L227.53,237.48 L227.65,237.34 L227.77,237.19 L227.88,237.02 L228.00,236.83 L228.11,236.63 L228.23,236.40 L228.35,236.16 L228.46,235.89 L228.58,235.60 L228.70,235.28 L228.81,234.94 L228.93,234.57 L229.04,234.17 L229.16,233.74 L229.28,233.27 L229.39,232.78 L229.51,232.26 L229.62,231.70 L229.74,231.11 L229.86,230.48 L229.97,229.83 L230.09,229.15 L230.21,228.43 L230.32,227.70 L230.44,226.94 L230.56,226.16 L230.67,225.37 L230.79,224.58 L230.90,223.78 L231.02,223.00 L231.14,222.23 L231.25,221.50 L231.37,220.81 L231.49,220.18 L231.60,219.65 L231.72,219.25 L231.83,219.14 L231.95,219.43 L232.07,219.87 L232.18,220.41 L232.30,221.02 L232.42,221.68 L232.53,222.37 L232.65,223.10 L232.76,223.83 L232.88,224.58 L233.00,225.32 L233.11,226.06 L233.23,226.79 L233.35,227.51 L233.46,228.21 L233.58,228.88 L233.69,229.53 L233.81,230.16 L233.93,230.76 L234.04,231.33 L234.16,231.87 L234.28,232.39 L234.39,232.88 L234.51,233.33 L234.62,233.76 L234.74,234.17 L234.86,234.54 L234.97,234.89 L235.09,235.22 L235.21,235.52 L235.32,235.80 L235.44,236.06 L235.55,236.30 L235.67,236.52 L235.79,236.72 L235.90,236.90 L236.02,237.07 L236.14,237.23 L236.25,237.37 L236.37,237.49 L236.48,237.61 L236.60,237.71" fill="none" stroke="#a86a20" stroke-width="0.8" stroke-opacity="0.9"/>
<line x1="187.6" y1="249.70" x2="259.0" y2="249.70" stroke="#8ea3cc" stroke-width="1.0"/>
<path d="M188.30,249.70 L188.30,249.70 L188.88,249.70 L189.47,249.70 L190.05,249.70 L190.63,249.70 L191.22,249.70 L191.80,249.70 L192.38,249.70 L192.97,249.70 L193.55,249.70 L194.13,249.70 L194.72,249.70 L195.30,249.70 L195.88,249.70 L196.47,249.70 L197.05,249.70 L197.63,249.70 L198.22,249.70 L198.80,249.70 L199.38,249.70 L199.97,249.70 L200.55,249.70 L201.13,249.70 L201.72,249.70 L202.30,249.70 L202.88,249.70 L203.47,249.70 L204.05,249.70 L204.63,249.70 L205.22,249.70 L205.80,249.70 L206.38,249.70 L206.97,249.70 L207.55,249.70 L208.13,249.70 L208.72,249.70 L209.30,249.70 L209.88,249.70 L210.47,249.70 L211.05,249.70 L211.63,249.70 L212.22,249.70 L212.80,249.70 L213.38,249.70 L213.97,249.70 L214.55,249.70 L215.13,249.70 L215.72,249.70 L216.30,249.70 L216.88,249.70 L217.47,249.70 L218.05,249.70 L218.63,249.70 L219.22,249.70 L219.80,249.70 L220.38,249.70 L220.97,249.70 L221.55,249.70 L222.13,249.70 L222.72,249.70 L223.30,249.70 L223.88,249.70 L224.47,249.70 L225.05,249.70 L225.63,249.70 L226.22,249.70 L226.80,249.70 L227.38,249.70 L227.97,249.69 L228.55,249.68 L229.13,249.65 L229.72,249.59 L230.30,249.44 L230.88,249.13 L231.47,248.55 L232.05,247.50 L232.63,245.77 L233.22,243.19 L233.80,239.71 L234.38,235.60 L234.97,231.58 L235.55,228.91 L236.13,229.71 L236.72,232.68 L237.30,236.37 L237.88,239.98 L238.47,243.07 L239.05,245.44 L239.63,247.12 L240.22,248.22 L240.80,248.89 L241.38,249.28 L241.97,249.49 L242.55,249.60 L243.13,249.66 L243.72,249.68 L244.30,249.69 L244.88,249.70 L245.47,249.70 L246.05,249.70 L246.63,249.70 L247.22,249.70 L247.80,249.70 L248.38,249.70 L248.97,249.70 L249.55,249.70 L250.13,249.70 L250.72,249.70 L251.30,249.70 L251.88,249.70 L252.47,249.70 L253.05,249.70 L253.63,249.70 L254.22,249.70 L254.80,249.70 L255.38,249.70 L255.97,249.70 L256.55,249.70 L257.13,249.70 L257.72,249.70 L258.30,249.70 L258.30,249.70 Z" fill="#6a88c2" fill-opacity="0.9" style="mix-blend-mode:multiply"/>
<path d="M230.90,249.12 L231.03,249.02 L231.15,248.90 L231.28,248.77 L231.41,248.62 L231.54,248.45 L231.66,248.25 L231.79,248.03 L231.92,247.78 L232.05,247.50 L232.17,247.19 L232.30,246.85 L232.43,246.47 L232.56,246.04 L232.68,245.58 L232.81,245.08 L232.94,244.53 L233.07,243.94 L233.19,243.31 L233.32,242.63 L233.45,241.90 L233.58,241.14 L233.70,240.33 L233.83,239.50 L233.96,238.63 L234.09,237.73 L234.21,236.82 L234.34,235.90 L234.47,234.97 L234.60,234.06 L234.72,233.17 L234.85,232.31 L234.98,231.49 L235.11,230.75 L235.23,230.08 L235.36,229.51 L235.49,229.07 L235.62,228.78 L235.74,228.72 L235.87,228.92 L236.00,229.25 L236.13,229.69 L236.25,230.22 L236.38,230.83 L236.51,231.49 L236.64,232.21 L236.76,232.97 L236.89,233.76 L237.02,234.57 L237.15,235.38 L237.27,236.21 L237.40,237.02 L237.53,237.83 L237.66,238.63 L237.78,239.40 L237.91,240.15 L238.04,240.87 L238.17,241.57 L238.29,242.23 L238.42,242.86 L238.55,243.45 L238.68,244.01 L238.80,244.53 L238.93,245.02 L239.06,245.47 L239.19,245.90 L239.31,246.28 L239.44,246.64 L239.57,246.97 L239.70,247.26 L239.82,247.54 L239.95,247.78 L240.08,248.00 L240.21,248.20 L240.33,248.38 L240.46,248.55 L240.59,248.69 L240.72,248.82 L240.84,248.93 L240.97,249.03 L241.10,249.12" fill="none" stroke="#1f3a70" stroke-width="0.8" stroke-opacity="0.9"/>
<line x1="187.6" y1="260.80" x2="259.0" y2="260.80" stroke="#e99a9a" stroke-width="1.0"/>
<path d="M188.30,260.80 L188.30,260.80 L188.88,260.80 L189.47,260.80 L190.05,260.80 L190.63,260.80 L191.22,260.80 L191.80,260.80 L192.38,260.80 L192.97,260.80 L193.55,260.80 L194.13,260.80 L194.72,260.80 L195.30,260.80 L195.88,260.80 L196.47,260.80 L197.05,260.80 L197.63,260.80 L198.22,260.80 L198.80,260.80 L199.38,260.80 L199.97,260.80 L200.55,260.80 L201.13,260.80 L201.72,260.80 L202.30,260.80 L202.88,260.80 L203.47,260.80 L204.05,260.80 L204.63,260.80 L205.22,260.80 L205.80,260.80 L206.38,260.80 L206.97,260.80 L207.55,260.79 L208.13,260.78 L208.72,260.75 L209.30,260.69 L209.88,260.57 L210.47,260.35 L211.05,259.96 L211.63,259.31 L212.22,258.30 L212.80,256.86 L213.38,254.94 L213.97,252.60 L214.55,249.99 L215.13,247.42 L215.72,245.29 L216.30,244.00 L216.88,243.96 L217.47,245.12 L218.05,247.10 L218.63,249.51 L219.22,252.03 L219.80,254.35 L220.38,256.32 L220.97,257.85 L221.55,258.96 L222.13,259.71 L222.72,260.19 L223.30,260.47 L223.88,260.63 L224.47,260.72 L225.05,260.76 L225.63,260.78 L226.22,260.79 L226.80,260.80 L227.38,260.80 L227.97,260.80 L228.55,260.80 L229.13,260.80 L229.72,260.80 L230.30,260.80 L230.88,260.80 L231.47,260.80 L232.05,260.80 L232.63,260.80 L233.22,260.80 L233.80,260.80 L234.38,260.80 L234.97,260.80 L235.55,260.80 L236.13,260.80 L236.72,260.80 L237.30,260.80 L237.88,260.80 L238.47,260.80 L239.05,260.80 L239.63,260.80 L240.22,260.80 L240.80,260.80 L241.38,260.80 L241.97,260.80 L242.55,260.80 L243.13,260.80 L243.72,260.80 L244.30,260.80 L244.88,260.80 L245.47,260.80 L246.05,260.80 L246.63,260.80 L247.22,260.80 L247.80,260.80 L248.38,260.80 L248.97,260.80 L249.55,260.80 L250.13,260.80 L250.72,260.80 L251.30,260.80 L251.88,260.80 L252.47,260.80 L253.05,260.80 L253.63,260.80 L254.22,260.80 L254.80,260.80 L255.38,260.80 L255.97,260.80 L256.55,260.80 L257.13,260.80 L257.72,260.80 L258.30,260.80 L258.30,260.80 Z" fill="#f4826f" fill-opacity="0.9" style="mix-blend-mode:multiply"/>
<path d="M210.00,260.54 L210.17,260.48 L210.34,260.41 L210.51,260.33 L210.68,260.23 L210.84,260.12 L211.01,259.99 L211.18,259.84 L211.35,259.66 L211.52,259.46 L211.69,259.23 L211.86,258.97 L212.03,258.68 L212.19,258.35 L212.36,257.99 L212.53,257.59 L212.70,257.14 L212.87,256.66 L213.04,256.14 L213.21,255.58 L213.38,254.97 L213.54,254.34 L213.71,253.66 L213.88,252.96 L214.05,252.23 L214.22,251.49 L214.39,250.73 L214.56,249.96 L214.72,249.20 L214.89,248.45 L215.06,247.72 L215.23,247.02 L215.40,246.37 L215.57,245.76 L215.74,245.22 L215.91,244.75 L216.07,244.37 L216.24,244.07 L216.41,243.88 L216.58,243.80 L216.75,243.85 L216.92,244.00 L217.09,244.26 L217.26,244.59 L217.43,245.01 L217.59,245.50 L217.76,246.04 L217.93,246.65 L218.10,247.29 L218.27,247.97 L218.44,248.68 L218.61,249.40 L218.78,250.13 L218.94,250.86 L219.11,251.59 L219.28,252.30 L219.45,252.99 L219.62,253.66 L219.79,254.31 L219.96,254.92 L220.12,255.50 L220.29,256.04 L220.46,256.55 L220.63,257.02 L220.80,257.45 L220.97,257.85 L221.14,258.21 L221.31,258.54 L221.47,258.84 L221.64,259.10 L221.81,259.33 L221.98,259.54 L222.15,259.72 L222.32,259.89 L222.49,260.03 L222.66,260.15 L222.82,260.25 L222.99,260.34 L223.16,260.42 L223.33,260.48 L223.50,260.54" fill="none" stroke="#b02e28" stroke-width="0.8" stroke-opacity="0.9"/>
<line x1="187.6" y1="271.90" x2="259.0" y2="271.90" stroke="#a893b6" stroke-width="1.0"/>
<path d="M188.30,271.90 L188.30,271.90 L188.88,271.90 L189.47,271.90 L190.05,271.90 L190.63,271.90 L191.22,271.90 L191.80,271.90 L192.38,271.90 L192.97,271.90 L193.55,271.90 L194.13,271.90 L194.72,271.90 L195.30,271.90 L195.88,271.90 L196.47,271.90 L197.05,271.90 L197.63,271.90 L198.22,271.90 L198.80,271.90 L199.38,271.90 L199.97,271.90 L200.55,271.90 L201.13,271.90 L201.72,271.90 L202.30,271.90 L202.88,271.90 L203.47,271.90 L204.05,271.90 L204.63,271.90 L205.22,271.90 L205.80,271.90 L206.38,271.90 L206.97,271.90 L207.55,271.89 L208.13,271.88 L208.72,271.85 L209.30,271.79 L209.88,271.67 L210.47,271.45 L211.05,271.06 L211.63,270.41 L212.22,269.40 L212.80,267.96 L213.38,266.04 L213.97,263.70 L214.55,261.09 L215.13,258.52 L215.72,256.39 L216.30,255.10 L216.88,255.06 L217.47,256.22 L218.05,258.20 L218.63,260.61 L219.22,263.13 L219.80,265.45 L220.38,267.42 L220.97,268.95 L221.55,270.06 L222.13,270.81 L222.72,271.29 L223.30,271.57 L223.88,271.73 L224.47,271.82 L225.05,271.86 L225.63,271.88 L226.22,271.89 L226.80,271.90 L227.38,271.90 L227.97,271.90 L228.55,271.90 L229.13,271.90 L229.72,271.90 L230.30,271.90 L230.88,271.90 L231.47,271.90 L232.05,271.90 L232.63,271.90 L233.22,271.90 L233.80,271.90 L234.38,271.90 L234.97,271.90 L235.55,271.90 L236.13,271.90 L236.72,271.90 L237.30,271.90 L237.88,271.90 L238.47,271.90 L239.05,271.90 L239.63,271.90 L240.22,271.90 L240.80,271.90 L241.38,271.90 L241.97,271.90 L242.55,271.90 L243.13,271.90 L243.72,271.90 L244.30,271.90 L244.88,271.90 L245.47,271.90 L246.05,271.90 L246.63,271.90 L247.22,271.90 L247.80,271.90 L248.38,271.90 L248.97,271.90 L249.55,271.90 L250.13,271.90 L250.72,271.90 L251.30,271.90 L251.88,271.90 L252.47,271.90 L253.05,271.90 L253.63,271.90 L254.22,271.90 L254.80,271.90 L255.38,271.90 L255.97,271.90 L256.55,271.90 L257.13,271.90 L257.72,271.90 L258.30,271.90 L258.30,271.90 Z" fill="#966aae" fill-opacity="0.9" style="mix-blend-mode:multiply"/>
<path d="M210.00,271.64 L210.17,271.58 L210.34,271.51 L210.51,271.43 L210.68,271.33 L210.84,271.22 L211.01,271.09 L211.18,270.94 L211.35,270.76 L211.52,270.56 L211.69,270.33 L211.86,270.07 L212.03,269.78 L212.19,269.45 L212.36,269.09 L212.53,268.69 L212.70,268.24 L212.87,267.76 L213.04,267.24 L213.21,266.68 L213.38,266.07 L213.54,265.44 L213.71,264.76 L213.88,264.06 L214.05,263.33 L214.22,262.59 L214.39,261.83 L214.56,261.06 L214.72,260.30 L214.89,259.55 L215.06,258.82 L215.23,258.12 L215.40,257.47 L215.57,256.86 L215.74,256.32 L215.91,255.85 L216.07,255.47 L216.24,255.17 L216.41,254.98 L216.58,254.90 L216.75,254.95 L216.92,255.10 L217.09,255.36 L217.26,255.69 L217.43,256.11 L217.59,256.60 L217.76,257.14 L217.93,257.75 L218.10,258.39 L218.27,259.07 L218.44,259.78 L218.61,260.50 L218.78,261.23 L218.94,261.96 L219.11,262.69 L219.28,263.40 L219.45,264.09 L219.62,264.76 L219.79,265.41 L219.96,266.02 L220.12,266.60 L220.29,267.14 L220.46,267.65 L220.63,268.12 L220.80,268.55 L220.97,268.95 L221.14,269.31 L221.31,269.64 L221.47,269.94 L221.64,270.20 L221.81,270.43 L221.98,270.64 L222.15,270.82 L222.32,270.99 L222.49,271.13 L222.66,271.25 L222.82,271.35 L222.99,271.44 L223.16,271.52 L223.33,271.58 L223.50,271.64" fill="none" stroke="#4a1e5e" stroke-width="0.8" stroke-opacity="0.9"/>
<path d="M202.30,282.30 L206.54,268.45 Q207.60,264.59 208.96,268.45 L214.40,282.30" fill="none" stroke="#111" stroke-width="0.95" stroke-dasharray="1.3,1.1"/>
<rect x="187.6" y="182.20" width="71.40" height="100.10" fill="none" stroke="#111" stroke-width="1.3"/>
<line x1="193.70" y1="282.30" x2="193.70" y2="284.50" stroke="#1a1a1a" stroke-width="0.85"/>
<line x1="191.40" y1="282.30" x2="191.40" y2="284.50" stroke="#1a1a1a" stroke-width="0.85"/>
<line x1="189.10" y1="282.30" x2="189.10" y2="284.50" stroke="#1a1a1a" stroke-width="0.85"/>
<line x1="196.00" y1="282.30" x2="196.00" y2="285.50" stroke="#1a1a1a" stroke-width="0.85"/>
<line x1="204.48" y1="282.30" x2="204.48" y2="285.50" stroke="#1a1a1a" stroke-width="0.85"/>
<line x1="208.01" y1="282.30" x2="208.01" y2="284.60" stroke="#1a1a1a" stroke-width="0.85"/>
<line x1="210.07" y1="282.30" x2="210.07" y2="284.60" stroke="#1a1a1a" stroke-width="0.85"/>
<line x1="211.54" y1="282.30" x2="211.54" y2="284.60" stroke="#1a1a1a" stroke-width="0.85"/>
<line x1="212.67" y1="282.30" x2="212.67" y2="284.60" stroke="#1a1a1a" stroke-width="0.85"/>
<line x1="213.60" y1="282.30" x2="213.60" y2="284.60" stroke="#1a1a1a" stroke-width="0.85"/>
<line x1="214.39" y1="282.30" x2="214.39" y2="284.60" stroke="#1a1a1a" stroke-width="0.85"/>
<line x1="215.06" y1="282.30" x2="215.06" y2="284.60" stroke="#1a1a1a" stroke-width="0.85"/>
<line x1="215.66" y1="282.30" x2="215.66" y2="284.60" stroke="#1a1a1a" stroke-width="0.85"/>
<line x1="216.20" y1="282.30" x2="216.20" y2="285.50" stroke="#1a1a1a" stroke-width="0.85"/>
<line x1="221.26" y1="282.30" x2="221.26" y2="284.60" stroke="#1a1a1a" stroke-width="0.85"/>
<line x1="224.22" y1="282.30" x2="224.22" y2="284.60" stroke="#1a1a1a" stroke-width="0.85"/>
<line x1="226.31" y1="282.30" x2="226.31" y2="284.60" stroke="#1a1a1a" stroke-width="0.85"/>
<line x1="227.94" y1="282.30" x2="227.94" y2="284.60" stroke="#1a1a1a" stroke-width="0.85"/>
<line x1="229.27" y1="282.30" x2="229.27" y2="284.60" stroke="#1a1a1a" stroke-width="0.85"/>
<line x1="230.40" y1="282.30" x2="230.40" y2="284.60" stroke="#1a1a1a" stroke-width="0.85"/>
<line x1="231.37" y1="282.30" x2="231.37" y2="284.60" stroke="#1a1a1a" stroke-width="0.85"/>
<line x1="232.23" y1="282.30" x2="232.23" y2="284.60" stroke="#1a1a1a" stroke-width="0.85"/>
<line x1="233.00" y1="282.30" x2="233.00" y2="285.50" stroke="#1a1a1a" stroke-width="0.85"/>
<line x1="238.12" y1="282.30" x2="238.12" y2="284.60" stroke="#1a1a1a" stroke-width="0.85"/>
<line x1="241.11" y1="282.30" x2="241.11" y2="284.60" stroke="#1a1a1a" stroke-width="0.85"/>
<line x1="243.24" y1="282.30" x2="243.24" y2="284.60" stroke="#1a1a1a" stroke-width="0.85"/>
<line x1="244.88" y1="282.30" x2="244.88" y2="284.60" stroke="#1a1a1a" stroke-width="0.85"/>
<line x1="246.23" y1="282.30" x2="246.23" y2="284.60" stroke="#1a1a1a" stroke-width="0.85"/>
<line x1="247.37" y1="282.30" x2="247.37" y2="284.60" stroke="#1a1a1a" stroke-width="0.85"/>
<line x1="248.35" y1="282.30" x2="248.35" y2="284.60" stroke="#1a1a1a" stroke-width="0.85"/>
<line x1="249.22" y1="282.30" x2="249.22" y2="284.60" stroke="#1a1a1a" stroke-width="0.85"/>
<line x1="250.00" y1="282.30" x2="250.00" y2="285.50" stroke="#1a1a1a" stroke-width="0.85"/>
<line x1="255.12" y1="282.30" x2="255.12" y2="284.60" stroke="#1a1a1a" stroke-width="0.85"/>
<text x="196.00" y="295.40" font-size="6.3" text-anchor="middle" fill="#222">0</text>
<text x="216.20" y="295.40" font-size="6.3" text-anchor="middle" fill="#222">10</text>
<text transform="translate(219.80,292.80) scale(0.5)" font-size="8.6" fill="#222" style="stroke-width:0.3px">3</text>
<text x="233.00" y="295.40" font-size="6.3" text-anchor="middle" fill="#222">10</text>
<text transform="translate(236.60,292.80) scale(0.5)" font-size="8.6" fill="#222" style="stroke-width:0.3px">4</text>
<text x="250.00" y="295.40" font-size="6.3" text-anchor="middle" fill="#222">10</text>
<text transform="translate(253.60,292.80) scale(0.5)" font-size="8.6" fill="#222" style="stroke-width:0.3px">5</text>
<line x1="189.1" y1="300.10" x2="254.0" y2="300.10" stroke="#111" stroke-width="1.2"/>
<path d="M251.40,297.90 L257.00,300.10 L251.40,302.30 Z" fill="#111"/>
<text transform="translate(141.20,155.90) scale(0.64,1)" font-size="9.4" font-weight="normal" text-anchor="middle" fill="#222" style="stroke-width:0.38px">PE-CD80</text>
<text transform="translate(223.20,155.90) scale(0.64,1)" font-size="9.4" font-weight="normal" text-anchor="middle" fill="#222" style="stroke-width:0.38px">PE-CD86</text>
<text transform="translate(141.00,311.70) scale(0.64,1)" font-size="9.4" font-weight="normal" text-anchor="middle" fill="#222" style="stroke-width:0.38px">PE-CD206</text>
<text transform="translate(223.00,311.70) scale(0.64,1)" font-size="9.4" font-weight="normal" text-anchor="middle" fill="#222" style="stroke-width:0.38px">PE-CD163</text>
<line x1="316.3" y1="15.4" x2="316.3" y2="35.8" stroke="#111" stroke-width="1.1"/>
<line x1="314.5" y1="35.8" x2="318.5" y2="35.8" stroke="#111" stroke-width="1"/>
<line x1="316.3" y1="41.3" x2="316.3" y2="84.2" stroke="#111" stroke-width="1.1"/>
<line x1="314.5" y1="41.3" x2="318.5" y2="41.3" stroke="#111" stroke-width="1"/>
<line x1="313.7" y1="18.2" x2="316.3" y2="18.2" stroke="#111" stroke-width="0.9"/>
<text x="310.5" y="20.60" font-size="6.9" text-anchor="end" fill="#333" letter-spacing="0.3" style="stroke-width:0.08px">12000</text>
<line x1="313.7" y1="30.2" x2="316.3" y2="30.2" stroke="#111" stroke-width="0.9"/>
<text x="310.5" y="32.60" font-size="6.9" text-anchor="end" fill="#333" letter-spacing="0.3" style="stroke-width:0.08px">8000</text>
<line x1="313.7" y1="41.5" x2="316.3" y2="41.5" stroke="#111" stroke-width="0.9"/>
<text x="310.5" y="43.90" font-size="6.9" text-anchor="end" fill="#333" letter-spacing="0.3" style="stroke-width:0.08px">2000</text>
<line x1="313.7" y1="62.8" x2="316.3" y2="62.8" stroke="#111" stroke-width="0.9"/>
<text x="310.5" y="65.20" font-size="6.9" text-anchor="end" fill="#333" letter-spacing="0.3" style="stroke-width:0.08px">1000</text>
<line x1="313.7" y1="84.2" x2="316.3" y2="84.2" stroke="#111" stroke-width="0.9"/>
<text x="310.5" y="86.60" font-size="6.9" text-anchor="end" fill="#333" letter-spacing="0.3" style="stroke-width:0.08px">0</text>
<path d="M320.00,84.2 L320.00,80.40 Q320.00,79.30 321.10,79.30 L324.30,79.30 Q325.40,79.30 325.40,80.40 L325.40,84.2 Z" fill="#4a1e62" stroke="#35104a" stroke-width="0.5"/>
<line x1="322.70" y1="84.2" x2="322.70" y2="86.8" stroke="#111" stroke-width="0.9"/>
<text transform="translate(323.70,92.90) rotate(-45)" font-size="6.75" text-anchor="end" fill="#2a2a2a" style="stroke:#2a2a2a;stroke-width:0.08px">THP-1 + PMA</text>
<rect x="329.32" y="41.3" width="5.4" height="42.90" fill="#c8102e"/>
<rect x="329.32" y="31.3" width="5.4" height="4.50" fill="#c8102e"/>
<line x1="332.02" y1="30.2" x2="332.02" y2="31.3" stroke="#c8102e" stroke-width="0.8"/>
<line x1="330.72" y1="30.2" x2="333.32" y2="30.2" stroke="#c8102e" stroke-width="0.8"/>
<line x1="332.02" y1="84.2" x2="332.02" y2="86.8" stroke="#111" stroke-width="0.9"/>
<text transform="translate(333.02,92.90) rotate(-45)" font-size="6.75" text-anchor="end" fill="#2a2a2a" style="stroke:#2a2a2a;stroke-width:0.08px">M1</text>
<path d="M338.64,84.2 L338.64,74.60 Q338.64,73.50 339.74,73.50 L342.94,73.50 Q344.04,73.50 344.04,74.60 L344.04,84.2 Z" fill="#1b4b8c" stroke="#0f3266" stroke-width="0.5"/>
<line x1="341.34" y1="84.2" x2="341.34" y2="86.8" stroke="#111" stroke-width="0.9"/>
<text transform="translate(342.34,92.90) rotate(-45)" font-size="6.75" text-anchor="end" fill="#2a2a2a" style="stroke:#2a2a2a;stroke-width:0.08px">M2</text>
<path d="M347.96,84.2 L347.96,74.60 Q347.96,73.50 349.06,73.50 L352.26,73.50 Q353.36,73.50 353.36,74.60 L353.36,84.2 Z" fill="#c97a20" stroke="#9c5a12" stroke-width="0.5"/>
<line x1="350.66" y1="71.2" x2="350.66" y2="73.5" stroke="#c97a20" stroke-width="0.8"/>
<line x1="349.36" y1="71.2" x2="351.96" y2="71.2" stroke="#c97a20" stroke-width="0.8"/>
<line x1="350.66" y1="84.2" x2="350.66" y2="86.8" stroke="#111" stroke-width="0.9"/>
<text transform="translate(351.66,92.90) rotate(-45)" font-size="6.75" text-anchor="end" fill="#2a2a2a" style="stroke:#2a2a2a;stroke-width:0.08px">w/OCI-LY8_sc siRNA</text>
<path d="M357.28,84.2 L357.28,74.60 Q357.28,73.50 358.38,73.50 L361.58,73.50 Q362.68,73.50 362.68,74.60 L362.68,84.2 Z" fill="#9b8fd0" stroke="#7a6eb0" stroke-width="0.5"/>
<line x1="359.98" y1="84.2" x2="359.98" y2="86.8" stroke="#111" stroke-width="0.9"/>
<text transform="translate(360.98,92.90) rotate(-45)" font-size="6.75" text-anchor="end" fill="#2a2a2a" style="stroke:#2a2a2a;stroke-width:0.08px">w/OCI-LY8_BCL2 siRNA</text>
<path d="M366.60,84.2 L366.60,74.60 Q366.60,73.50 367.70,73.50 L370.90,73.50 Q372.00,73.50 372.00,74.60 L372.00,84.2 Z" fill="#a9c08c" stroke="#8aa06c" stroke-width="0.5"/>
<line x1="369.30" y1="84.2" x2="369.30" y2="86.8" stroke="#111" stroke-width="0.9"/>
<text transform="translate(370.30,92.90) rotate(-45)" font-size="6.75" text-anchor="end" fill="#2a2a2a" style="stroke:#2a2a2a;stroke-width:0.08px">w/OCI-LY8_MYC siRNA</text>
<path d="M375.92,84.2 L375.92,67.90 Q375.92,66.80 377.02,66.80 L380.22,66.80 Q381.32,66.80 381.32,67.90 L381.32,84.2 Z" fill="#e60b7c" stroke="#b8105e" stroke-width="0.5"/>
<line x1="378.62" y1="65.0" x2="378.62" y2="66.8" stroke="#e60b7c" stroke-width="0.8"/>
<line x1="377.32" y1="65.0" x2="379.92" y2="65.0" stroke="#e60b7c" stroke-width="0.8"/>
<line x1="378.62" y1="84.2" x2="378.62" y2="86.8" stroke="#111" stroke-width="0.9"/>
<text transform="translate(379.62,92.90) rotate(-45)" font-size="6.75" text-anchor="end" fill="#2a2a2a" style="stroke:#2a2a2a;stroke-width:0.08px">w/OCI-LY8_Dual knockdown</text>
<line x1="316.3" y1="84.2" x2="385.3" y2="84.2" stroke="#111" stroke-width="1.2"/>
<text transform="translate(283.4,51.3) rotate(-90) scale(0.755,1)" font-size="8.4" font-weight="normal" text-anchor="middle" fill="#222" style="stroke-width:0.32px">CD80 (MFI)</text>
<path d="M350.6,55.599999999999994 L350.6,52.8 L378.6,52.8 L378.6,55.599999999999994" fill="none" stroke="#1a1a1a" stroke-width="1.0"/>
<circle cx="360.70" cy="49.40" r="0.9" fill="#333"/>
<circle cx="363.90" cy="49.40" r="0.9" fill="#333"/>
<circle cx="367.10" cy="49.40" r="0.9" fill="#333"/>
<line x1="443.8" y1="15.2" x2="443.8" y2="36.2" stroke="#111" stroke-width="1.1"/>
<line x1="442.0" y1="36.2" x2="446.0" y2="36.2" stroke="#111" stroke-width="1"/>
<line x1="443.8" y1="41.3" x2="443.8" y2="84.2" stroke="#111" stroke-width="1.1"/>
<line x1="442.0" y1="41.3" x2="446.0" y2="41.3" stroke="#111" stroke-width="1"/>
<line x1="441.2" y1="18.1" x2="443.8" y2="18.1" stroke="#111" stroke-width="0.9"/>
<text x="438.0" y="20.50" font-size="6.9" text-anchor="end" fill="#333" letter-spacing="0.3" style="stroke-width:0.08px">7000</text>
<line x1="441.2" y1="35.5" x2="443.8" y2="35.5" stroke="#111" stroke-width="0.9"/>
<text x="438.0" y="37.90" font-size="6.9" text-anchor="end" fill="#333" letter-spacing="0.3" style="stroke-width:0.08px">5000</text>
<line x1="441.2" y1="41.6" x2="443.8" y2="41.6" stroke="#111" stroke-width="0.9"/>
<text x="438.0" y="44.00" font-size="6.9" text-anchor="end" fill="#333" letter-spacing="0.3" style="stroke-width:0.08px">2000</text>
<line x1="441.2" y1="62.8" x2="443.8" y2="62.8" stroke="#111" stroke-width="0.9"/>
<text x="438.0" y="65.20" font-size="6.9" text-anchor="end" fill="#333" letter-spacing="0.3" style="stroke-width:0.08px">1000</text>
<line x1="441.2" y1="84.2" x2="443.8" y2="84.2" stroke="#111" stroke-width="0.9"/>
<text x="438.0" y="86.60" font-size="6.9" text-anchor="end" fill="#333" letter-spacing="0.3" style="stroke-width:0.08px">0</text>
<path d="M447.30,84.2 L447.30,80.90 Q447.30,79.80 448.40,79.80 L451.60,79.80 Q452.70,79.80 452.70,80.90 L452.70,84.2 Z" fill="#4a1e62" stroke="#35104a" stroke-width="0.5"/>
<line x1="450.00" y1="84.2" x2="450.00" y2="86.8" stroke="#111" stroke-width="0.9"/>
<text transform="translate(451.00,92.90) rotate(-45)" font-size="6.75" text-anchor="end" fill="#2a2a2a" style="stroke:#2a2a2a;stroke-width:0.08px">THP-1 + PMA</text>
<rect x="456.62" y="41.3" width="5.4" height="42.90" fill="#c8102e"/>
<rect x="456.62" y="30.5" width="5.4" height="5.70" fill="#c8102e"/>
<line x1="459.32" y1="26.2" x2="459.32" y2="30.5" stroke="#c8102e" stroke-width="0.8"/>
<line x1="458.02" y1="26.2" x2="460.62" y2="26.2" stroke="#c8102e" stroke-width="0.8"/>
<line x1="459.32" y1="84.2" x2="459.32" y2="86.8" stroke="#111" stroke-width="0.9"/>
<text transform="translate(460.32,92.90) rotate(-45)" font-size="6.75" text-anchor="end" fill="#2a2a2a" style="stroke:#2a2a2a;stroke-width:0.08px">M1</text>
<path d="M465.94,84.2 L465.94,71.00 Q465.94,69.90 467.04,69.90 L470.24,69.90 Q471.34,69.90 471.34,71.00 L471.34,84.2 Z" fill="#1b4b8c" stroke="#0f3266" stroke-width="0.5"/>
<line x1="468.64" y1="69.2" x2="468.64" y2="69.9" stroke="#1b4b8c" stroke-width="0.8"/>
<line x1="467.34" y1="69.2" x2="469.94" y2="69.2" stroke="#1b4b8c" stroke-width="0.8"/>
<line x1="468.64" y1="84.2" x2="468.64" y2="86.8" stroke="#111" stroke-width="0.9"/>
<text transform="translate(469.64,92.90) rotate(-45)" font-size="6.75" text-anchor="end" fill="#2a2a2a" style="stroke:#2a2a2a;stroke-width:0.08px">M2</text>
<path d="M475.26,84.2 L475.26,70.70 Q475.26,69.60 476.36,69.60 L479.56,69.60 Q480.66,69.60 480.66,70.70 L480.66,84.2 Z" fill="#c97a20" stroke="#9c5a12" stroke-width="0.5"/>
<line x1="477.96" y1="84.2" x2="477.96" y2="86.8" stroke="#111" stroke-width="0.9"/>
<text transform="translate(478.96,92.90) rotate(-45)" font-size="6.75" text-anchor="end" fill="#2a2a2a" style="stroke:#2a2a2a;stroke-width:0.08px">w/OCI-LY8_sc siRNA</text>
<path d="M484.58,84.2 L484.58,72.30 Q484.58,71.20 485.68,71.20 L488.88,71.20 Q489.98,71.20 489.98,72.30 L489.98,84.2 Z" fill="#9b8fd0" stroke="#7a6eb0" stroke-width="0.5"/>
<line x1="487.28" y1="84.2" x2="487.28" y2="86.8" stroke="#111" stroke-width="0.9"/>
<text transform="translate(488.28,92.90) rotate(-45)" font-size="6.75" text-anchor="end" fill="#2a2a2a" style="stroke:#2a2a2a;stroke-width:0.08px">w/OCI-LY8_BCL2 siRNA</text>
<path d="M493.90,84.2 L493.90,66.10 Q493.90,65.00 495.00,65.00 L498.20,65.00 Q499.30,65.00 499.30,66.10 L499.30,84.2 Z" fill="#a9c08c" stroke="#8aa06c" stroke-width="0.5"/>
<line x1="496.60" y1="84.2" x2="496.60" y2="86.8" stroke="#111" stroke-width="0.9"/>
<text transform="translate(497.60,92.90) rotate(-45)" font-size="6.75" text-anchor="end" fill="#2a2a2a" style="stroke:#2a2a2a;stroke-width:0.08px">w/OCI-LY8_MYC siRNA</text>
<path d="M503.22,84.2 L503.22,66.10 Q503.22,65.00 504.32,65.00 L507.52,65.00 Q508.62,65.00 508.62,66.10 L508.62,84.2 Z" fill="#e60b7c" stroke="#b8105e" stroke-width="0.5"/>
<line x1="505.92" y1="84.2" x2="505.92" y2="86.8" stroke="#111" stroke-width="0.9"/>
<text transform="translate(506.92,92.90) rotate(-45)" font-size="6.75" text-anchor="end" fill="#2a2a2a" style="stroke:#2a2a2a;stroke-width:0.08px">w/OCI-LY8_Dual knockdown</text>
<line x1="443.8" y1="84.2" x2="512.4" y2="84.2" stroke="#111" stroke-width="1.2"/>
<text transform="translate(414.7,51.3) rotate(-90) scale(0.755,1)" font-size="8.4" font-weight="normal" text-anchor="middle" fill="#222" style="stroke-width:0.32px">CD86 (MFI)</text>
<path d="M477.6,50.6 L477.6,47.4 L501.4,47.4 L501.4,50.699999999999996" fill="none" stroke="#1a1a1a" stroke-width="1.0"/>
<path d="M495.6,53.800000000000004 L495.6,50.7 L507.2,50.7 L507.2,53.800000000000004" fill="none" stroke="#1a1a1a" stroke-width="1.0"/>
<circle cx="486.20" cy="43.70" r="0.9" fill="#333"/>
<circle cx="489.40" cy="43.70" r="0.9" fill="#333"/>
<circle cx="492.60" cy="43.70" r="0.9" fill="#333"/>
<line x1="316.3" y1="171.5" x2="316.3" y2="240.4" stroke="#111" stroke-width="1.1"/>
<line x1="313.7" y1="174.4" x2="316.3" y2="174.4" stroke="#111" stroke-width="0.9"/>
<text x="310.5" y="176.80" font-size="6.9" text-anchor="end" fill="#333" letter-spacing="0.3" style="stroke-width:0.08px">12000</text>
<line x1="313.7" y1="196.3" x2="316.3" y2="196.3" stroke="#111" stroke-width="0.9"/>
<text x="310.5" y="198.70" font-size="6.9" text-anchor="end" fill="#333" letter-spacing="0.3" style="stroke-width:0.08px">8000</text>
<line x1="313.7" y1="218.4" x2="316.3" y2="218.4" stroke="#111" stroke-width="0.9"/>
<text x="310.5" y="220.80" font-size="6.9" text-anchor="end" fill="#333" letter-spacing="0.3" style="stroke-width:0.08px">4000</text>
<line x1="313.7" y1="240.4" x2="316.3" y2="240.4" stroke="#111" stroke-width="0.9"/>
<text x="310.5" y="242.80" font-size="6.9" text-anchor="end" fill="#333" letter-spacing="0.3" style="stroke-width:0.08px">0</text>
<path d="M320.00,240.4 L320.00,239.85 Q320.00,239.30 320.55,239.30 L324.85,239.30 Q325.40,239.30 325.40,239.85 L325.40,240.4 Z" fill="#4a1e62" stroke="#35104a" stroke-width="0.5"/>
<line x1="322.70" y1="240.4" x2="322.70" y2="243.0" stroke="#111" stroke-width="0.9"/>
<text transform="translate(323.70,249.10) rotate(-45)" font-size="6.75" text-anchor="end" fill="#2a2a2a" style="stroke:#2a2a2a;stroke-width:0.08px">THP-1 + PMA</text>
<path d="M329.32,240.4 L329.32,237.30 Q329.32,236.20 330.42,236.20 L333.62,236.20 Q334.72,236.20 334.72,237.30 L334.72,240.4 Z" fill="#c8102e" stroke="#9a0c24" stroke-width="0.5"/>
<line x1="332.02" y1="240.4" x2="332.02" y2="243.0" stroke="#111" stroke-width="0.9"/>
<text transform="translate(333.02,249.10) rotate(-45)" font-size="6.75" text-anchor="end" fill="#2a2a2a" style="stroke:#2a2a2a;stroke-width:0.08px">M1</text>
<path d="M338.64,240.4 L338.64,182.90 Q338.64,181.80 339.74,181.80 L342.94,181.80 Q344.04,181.80 344.04,182.90 L344.04,240.4 Z" fill="#1b4b8c" stroke="#0f3266" stroke-width="0.5"/>
<line x1="341.34" y1="178.6" x2="341.34" y2="181.8" stroke="#1b4b8c" stroke-width="0.8"/>
<line x1="340.04" y1="178.6" x2="342.64" y2="178.6" stroke="#1b4b8c" stroke-width="0.8"/>
<line x1="341.34" y1="240.4" x2="341.34" y2="243.0" stroke="#111" stroke-width="0.9"/>
<text transform="translate(342.34,249.10) rotate(-45)" font-size="6.75" text-anchor="end" fill="#2a2a2a" style="stroke:#2a2a2a;stroke-width:0.08px">M2</text>
<path d="M347.96,240.4 L347.96,212.30 Q347.96,211.20 349.06,211.20 L352.26,211.20 Q353.36,211.20 353.36,212.30 L353.36,240.4 Z" fill="#c97a20" stroke="#9c5a12" stroke-width="0.5"/>
<line x1="350.66" y1="240.4" x2="350.66" y2="243.0" stroke="#111" stroke-width="0.9"/>
<text transform="translate(351.66,249.10) rotate(-45)" font-size="6.75" text-anchor="end" fill="#2a2a2a" style="stroke:#2a2a2a;stroke-width:0.08px">w/OCI-LY8_sc siRNA</text>
<path d="M357.28,240.4 L357.28,222.90 Q357.28,221.80 358.38,221.80 L361.58,221.80 Q362.68,221.80 362.68,222.90 L362.68,240.4 Z" fill="#9b8fd0" stroke="#7a6eb0" stroke-width="0.5"/>
<line x1="359.98" y1="219.0" x2="359.98" y2="221.8" stroke="#9b8fd0" stroke-width="0.8"/>
<line x1="358.68" y1="219.0" x2="361.28" y2="219.0" stroke="#9b8fd0" stroke-width="0.8"/>
<line x1="359.98" y1="240.4" x2="359.98" y2="243.0" stroke="#111" stroke-width="0.9"/>
<text transform="translate(360.98,249.10) rotate(-45)" font-size="6.75" text-anchor="end" fill="#2a2a2a" style="stroke:#2a2a2a;stroke-width:0.08px">w/OCI-LY8_BCL2 siRNA</text>
<path d="M366.60,240.4 L366.60,223.70 Q366.60,222.60 367.70,222.60 L370.90,222.60 Q372.00,222.60 372.00,223.70 L372.00,240.4 Z" fill="#a9c08c" stroke="#8aa06c" stroke-width="0.5"/>
<line x1="369.30" y1="240.4" x2="369.30" y2="243.0" stroke="#111" stroke-width="0.9"/>
<text transform="translate(370.30,249.10) rotate(-45)" font-size="6.75" text-anchor="end" fill="#2a2a2a" style="stroke:#2a2a2a;stroke-width:0.08px">w/OCI-LY8_MYC siRNA</text>
<path d="M375.92,240.4 L375.92,236.20 Q375.92,235.10 377.02,235.10 L380.22,235.10 Q381.32,235.10 381.32,236.20 L381.32,240.4 Z" fill="#e60b7c" stroke="#b8105e" stroke-width="0.5"/>
<line x1="378.62" y1="233.2" x2="378.62" y2="235.1" stroke="#e60b7c" stroke-width="0.8"/>
<line x1="377.32" y1="233.2" x2="379.92" y2="233.2" stroke="#e60b7c" stroke-width="0.8"/>
<line x1="378.62" y1="240.4" x2="378.62" y2="243.0" stroke="#111" stroke-width="0.9"/>
<text transform="translate(379.62,249.10) rotate(-45)" font-size="6.75" text-anchor="end" fill="#2a2a2a" style="stroke:#2a2a2a;stroke-width:0.08px">w/OCI-LY8_Dual knockdown</text>
<line x1="316.3" y1="240.4" x2="385.0" y2="240.4" stroke="#111" stroke-width="1.2"/>
<text transform="translate(283.6,205.8) rotate(-90) scale(0.755,1)" font-size="8.4" font-weight="normal" text-anchor="middle" fill="#222" style="stroke-width:0.32px">CD206 (MFI)</text>
<path d="M349.6,179.7 L349.6,176.6 L370.3,176.6 L370.3,179.7" fill="none" stroke="#1a1a1a" stroke-width="1.0"/>
<path d="M360.0,182.79999999999998 L360.0,179.7 L380.4,179.7 L380.4,182.79999999999998" fill="none" stroke="#1a1a1a" stroke-width="1.0"/>
<path d="M366.0,193.2 L366.0,190.2 L380.4,190.2 L380.4,193.0" fill="none" stroke="#1a1a1a" stroke-width="1.0"/>
<path d="M360.0,196.2 L360.0,193.2 L373.4,193.2 L373.4,196.2" fill="none" stroke="#1a1a1a" stroke-width="1.0"/>
<circle cx="356.80" cy="172.70" r="0.9" fill="#333"/>
<circle cx="360.00" cy="172.70" r="0.9" fill="#333"/>
<circle cx="363.20" cy="172.70" r="0.9" fill="#333"/>
<circle cx="370.20" cy="186.20" r="0.9" fill="#333"/>
<circle cx="373.40" cy="186.20" r="0.9" fill="#333"/>
<circle cx="376.60" cy="186.20" r="0.9" fill="#333"/>
<line x1="443.8" y1="171.5" x2="443.8" y2="240.3" stroke="#111" stroke-width="1.1"/>
<line x1="441.2" y1="174.7" x2="443.8" y2="174.7" stroke="#111" stroke-width="0.9"/>
<text x="438.0" y="177.10" font-size="6.9" text-anchor="end" fill="#333" letter-spacing="0.3" style="stroke-width:0.08px">8000</text>
<line x1="441.2" y1="207.4" x2="443.8" y2="207.4" stroke="#111" stroke-width="0.9"/>
<text x="438.0" y="209.80" font-size="6.9" text-anchor="end" fill="#333" letter-spacing="0.3" style="stroke-width:0.08px">4000</text>
<line x1="441.2" y1="240.3" x2="443.8" y2="240.3" stroke="#111" stroke-width="0.9"/>
<text x="438.0" y="242.70" font-size="6.9" text-anchor="end" fill="#333" letter-spacing="0.3" style="stroke-width:0.08px">0</text>
<path d="M447.30,240.3 L447.30,239.25 Q447.30,238.20 448.35,238.20 L451.65,238.20 Q452.70,238.20 452.70,239.25 L452.70,240.3 Z" fill="#4a1e62" stroke="#35104a" stroke-width="0.5"/>
<line x1="450.00" y1="240.3" x2="450.00" y2="242.9" stroke="#111" stroke-width="0.9"/>
<text transform="translate(451.00,249.00) rotate(-45)" font-size="6.75" text-anchor="end" fill="#2a2a2a" style="stroke:#2a2a2a;stroke-width:0.08px">THP-1 + PMA</text>
<path d="M456.62,240.3 L456.62,235.10 Q456.62,234.00 457.72,234.00 L460.92,234.00 Q462.02,234.00 462.02,235.10 L462.02,240.3 Z" fill="#c8102e" stroke="#9a0c24" stroke-width="0.5"/>
<line x1="459.32" y1="240.3" x2="459.32" y2="242.9" stroke="#111" stroke-width="0.9"/>
<text transform="translate(460.32,249.00) rotate(-45)" font-size="6.75" text-anchor="end" fill="#2a2a2a" style="stroke:#2a2a2a;stroke-width:0.08px">M1</text>
<path d="M465.94,240.3 L465.94,187.20 Q465.94,186.10 467.04,186.10 L470.24,186.10 Q471.34,186.10 471.34,187.20 L471.34,240.3 Z" fill="#1b4b8c" stroke="#0f3266" stroke-width="0.5"/>
<line x1="468.64" y1="184.2" x2="468.64" y2="186.1" stroke="#1b4b8c" stroke-width="0.8"/>
<line x1="467.34" y1="184.2" x2="469.94" y2="184.2" stroke="#1b4b8c" stroke-width="0.8"/>
<line x1="468.64" y1="240.3" x2="468.64" y2="242.9" stroke="#111" stroke-width="0.9"/>
<text transform="translate(469.64,249.00) rotate(-45)" font-size="6.75" text-anchor="end" fill="#2a2a2a" style="stroke:#2a2a2a;stroke-width:0.08px">M2</text>
<path d="M475.26,240.3 L475.26,199.90 Q475.26,198.80 476.36,198.80 L479.56,198.80 Q480.66,198.80 480.66,199.90 L480.66,240.3 Z" fill="#c97a20" stroke="#9c5a12" stroke-width="0.5"/>
<line x1="477.96" y1="197.3" x2="477.96" y2="198.8" stroke="#c97a20" stroke-width="0.8"/>
<line x1="476.66" y1="197.3" x2="479.26" y2="197.3" stroke="#c97a20" stroke-width="0.8"/>
<line x1="477.96" y1="240.3" x2="477.96" y2="242.9" stroke="#111" stroke-width="0.9"/>
<text transform="translate(478.96,249.00) rotate(-45)" font-size="6.75" text-anchor="end" fill="#2a2a2a" style="stroke:#2a2a2a;stroke-width:0.08px">w/OCI-LY8_sc siRNA</text>
<path d="M484.58,240.3 L484.58,213.50 Q484.58,212.40 485.68,212.40 L488.88,212.40 Q489.98,212.40 489.98,213.50 L489.98,240.3 Z" fill="#9b8fd0" stroke="#7a6eb0" stroke-width="0.5"/>
<line x1="487.28" y1="209.8" x2="487.28" y2="212.4" stroke="#9b8fd0" stroke-width="0.8"/>
<line x1="485.98" y1="209.8" x2="488.58" y2="209.8" stroke="#9b8fd0" stroke-width="0.8"/>
<line x1="487.28" y1="240.3" x2="487.28" y2="242.9" stroke="#111" stroke-width="0.9"/>
<text transform="translate(488.28,249.00) rotate(-45)" font-size="6.75" text-anchor="end" fill="#2a2a2a" style="stroke:#2a2a2a;stroke-width:0.08px">w/OCI-LY8_BCL2 siRNA</text>
<path d="M493.90,240.3 L493.90,216.30 Q493.90,215.20 495.00,215.20 L498.20,215.20 Q499.30,215.20 499.30,216.30 L499.30,240.3 Z" fill="#a9c08c" stroke="#8aa06c" stroke-width="0.5"/>
<line x1="496.60" y1="240.3" x2="496.60" y2="242.9" stroke="#111" stroke-width="0.9"/>
<text transform="translate(497.60,249.00) rotate(-45)" font-size="6.75" text-anchor="end" fill="#2a2a2a" style="stroke:#2a2a2a;stroke-width:0.08px">w/OCI-LY8_MYC siRNA</text>
<path d="M503.22,240.3 L503.22,228.00 Q503.22,226.90 504.32,226.90 L507.52,226.90 Q508.62,226.90 508.62,228.00 L508.62,240.3 Z" fill="#e60b7c" stroke="#b8105e" stroke-width="0.5"/>
<line x1="505.92" y1="225.4" x2="505.92" y2="226.9" stroke="#e60b7c" stroke-width="0.8"/>
<line x1="504.62" y1="225.4" x2="507.22" y2="225.4" stroke="#e60b7c" stroke-width="0.8"/>
<line x1="505.92" y1="240.3" x2="505.92" y2="242.9" stroke="#111" stroke-width="0.9"/>
<text transform="translate(506.92,249.00) rotate(-45)" font-size="6.75" text-anchor="end" fill="#2a2a2a" style="stroke:#2a2a2a;stroke-width:0.08px">w/OCI-LY8_Dual knockdown</text>
<line x1="443.8" y1="240.3" x2="511.4" y2="240.3" stroke="#111" stroke-width="1.2"/>
<text transform="translate(414.9,205.8) rotate(-90) scale(0.755,1)" font-size="8.4" font-weight="normal" text-anchor="middle" fill="#222" style="stroke-width:0.32px">CD163 (MFI)</text>
<path d="M477.6,178.1 L477.6,175.2 L497.2,175.2 L497.2,178.1" fill="none" stroke="#1a1a1a" stroke-width="1.0"/>
<path d="M487.0,181.2 L487.0,178.1 L507.8,178.1 L507.8,181.2" fill="none" stroke="#1a1a1a" stroke-width="1.0"/>
<path d="M493.4,191.4 L493.4,188.4 L508.0,188.4 L508.0,191.4" fill="none" stroke="#1a1a1a" stroke-width="1.0"/>
<path d="M487.0,194.7 L487.0,191.6 L500.6,191.6 L500.6,194.7" fill="none" stroke="#1a1a1a" stroke-width="1.0"/>
<circle cx="484.30" cy="171.60" r="0.9" fill="#333"/>
<circle cx="487.50" cy="171.60" r="0.9" fill="#333"/>
<circle cx="490.70" cy="171.60" r="0.9" fill="#333"/>
<circle cx="497.40" cy="184.80" r="0.9" fill="#333"/>
<circle cx="500.60" cy="184.80" r="0.9" fill="#333"/>
<circle cx="503.80" cy="184.80" r="0.9" fill="#333"/>
</svg>
</body></html>
